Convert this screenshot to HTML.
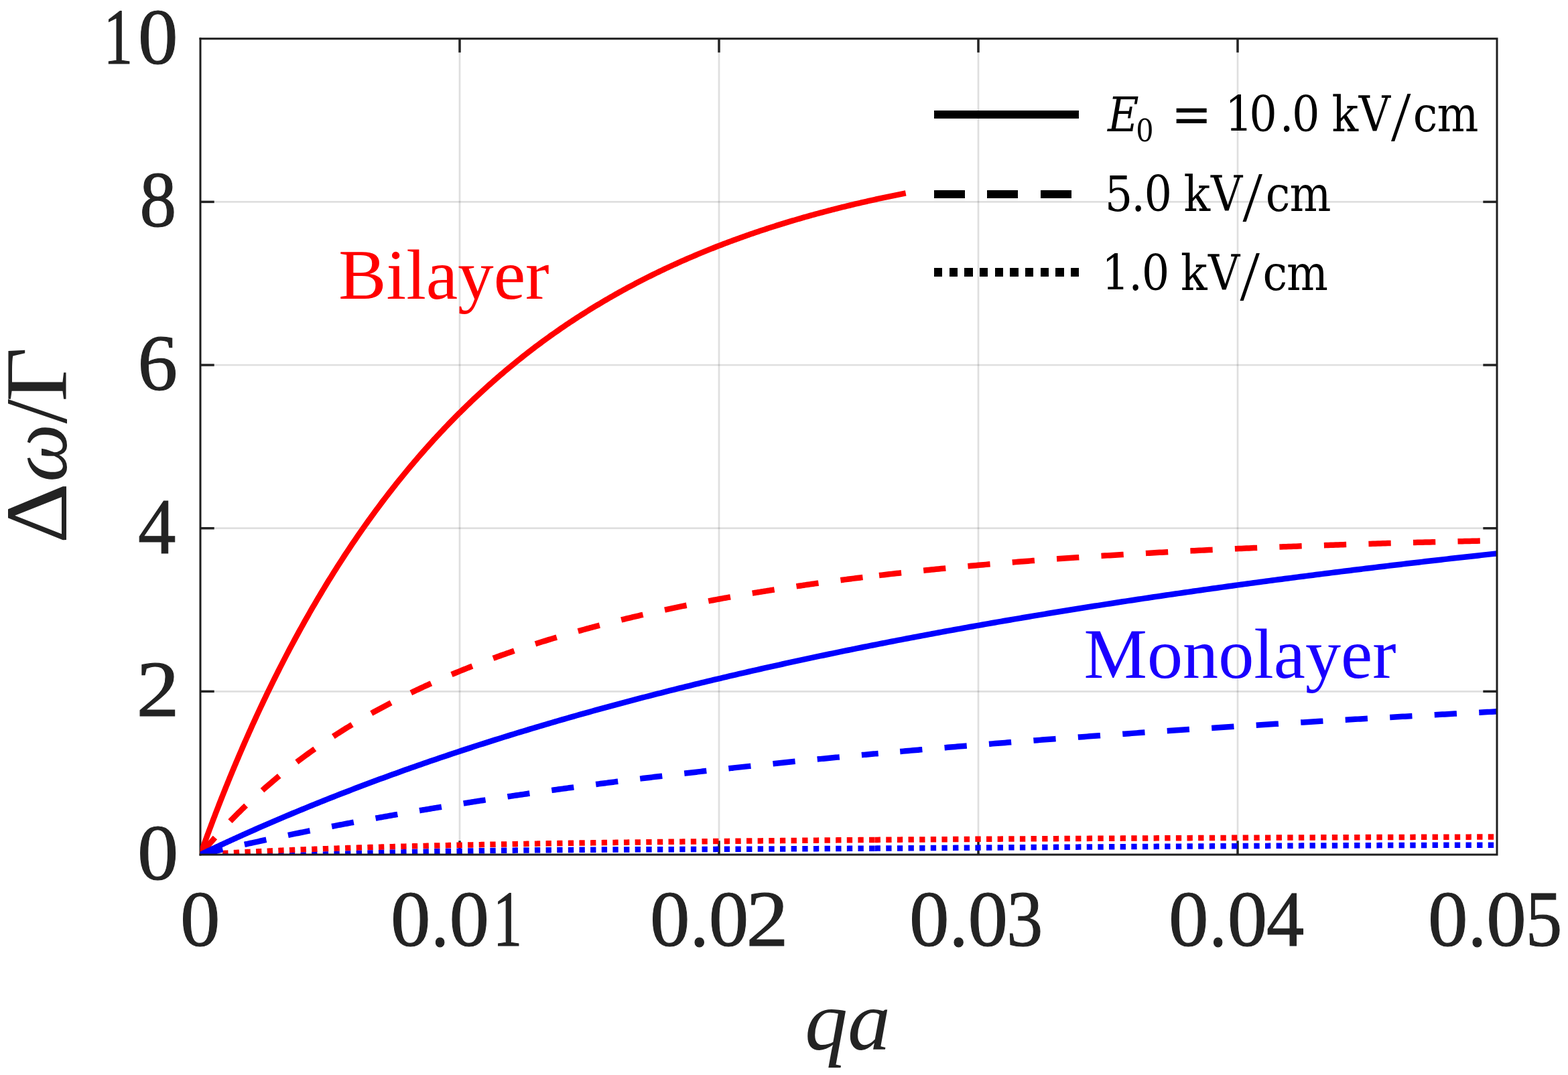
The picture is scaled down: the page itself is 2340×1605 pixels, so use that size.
<!DOCTYPE html>
<html><head><meta charset="utf-8"><title>Δω/Γ vs qa</title>
<style>
html,body{margin:0;padding:0;background:#fff;}
body{width:2340px;height:1605px;overflow:hidden;}
svg{display:block;}
</style></head><body>
<svg xmlns="http://www.w3.org/2000/svg" width="2340" height="1605" viewBox="0 0 2340 1605">
<rect width="2340" height="1605" fill="#fff"/>
<defs><clipPath id="ax"><rect x="298.8" y="57.7" width="1935.2" height="1218.3"/></clipPath></defs>
<g stroke="#262626" stroke-opacity="0.15" stroke-width="2.7" fill="none"><line x1="686.0" y1="57.7" x2="686.0" y2="1276.0"/><line x1="1073.0" y1="57.7" x2="1073.0" y2="1276.0"/><line x1="1460.0" y1="57.7" x2="1460.0" y2="1276.0"/><line x1="1847.0" y1="57.7" x2="1847.0" y2="1276.0"/><line x1="299.0" y1="1032.3" x2="2234.0" y2="1032.3"/><line x1="299.0" y1="788.7" x2="2234.0" y2="788.7"/><line x1="299.0" y1="545.0" x2="2234.0" y2="545.0"/><line x1="299.0" y1="301.4" x2="2234.0" y2="301.4"/></g>
<g stroke="#232323" stroke-width="3.5"><line x1="686.0" y1="1276.0" x2="686.0" y2="1255.3"/><line x1="686.0" y1="57.7" x2="686.0" y2="78.4"/><line x1="1073.0" y1="1276.0" x2="1073.0" y2="1255.3"/><line x1="1073.0" y1="57.7" x2="1073.0" y2="78.4"/><line x1="1460.0" y1="1276.0" x2="1460.0" y2="1255.3"/><line x1="1460.0" y1="57.7" x2="1460.0" y2="78.4"/><line x1="1847.0" y1="1276.0" x2="1847.0" y2="1255.3"/><line x1="1847.0" y1="57.7" x2="1847.0" y2="78.4"/><line x1="299.0" y1="1032.3" x2="319.7" y2="1032.3"/><line x1="2234.0" y1="1032.3" x2="2213.3" y2="1032.3"/><line x1="299.0" y1="788.7" x2="319.7" y2="788.7"/><line x1="2234.0" y1="788.7" x2="2213.3" y2="788.7"/><line x1="299.0" y1="545.0" x2="319.7" y2="545.0"/><line x1="2234.0" y1="545.0" x2="2213.3" y2="545.0"/><line x1="299.0" y1="301.4" x2="319.7" y2="301.4"/><line x1="2234.0" y1="301.4" x2="2213.3" y2="301.4"/></g>
<line x1="299.0" y1="56.2" x2="299.0" y2="1277.5" stroke="#1e1e1e" stroke-width="3"/>
<g clip-path="url(#ax)" fill="none" stroke-width="8.5" stroke-linejoin="round"><path d="M299.00 1276.00 L299.98 1275.94 L300.96 1275.88 L301.94 1275.82 L302.92 1275.76 L303.90 1275.70 L304.88 1275.64 L305.86 1275.57 L306.84 1275.51 L307.82 1275.46 L308.80 1275.40 L309.78 1275.34 L310.76 1275.28 L311.74 1275.22 L312.72 1275.16 L313.70 1275.10 L314.68 1275.04 L315.66 1274.98 L316.64 1274.93 L317.62 1274.87 L318.59 1274.81 L319.57 1274.75 L320.55 1274.70 L321.53 1274.64 L322.51 1274.58 L323.49 1274.53 L324.47 1274.47 L325.45 1274.41 L326.43 1274.36 L327.41 1274.30 L328.39 1274.25 L329.37 1274.19 L330.35 1274.13 L331.33 1274.08 L332.31 1274.02 L333.29 1273.97 L334.27 1273.91 L335.25 1273.86 L336.23 1273.81 L337.21 1273.75 L338.19 1273.70 L339.17 1273.64 L340.15 1273.59 L341.13 1273.54 L342.11 1273.48 L343.09 1273.43 L344.07 1273.38 L345.05 1273.33 L346.03 1273.27 L347.01 1273.22 L347.99 1273.17 L348.97 1273.12 L349.95 1273.06 L350.93 1273.01 L351.91 1272.96 L352.89 1272.91 L353.87 1272.86 L354.85 1272.81 L355.83 1272.76 L356.81 1272.71 L357.78 1272.65 L358.76 1272.60 L359.74 1272.55 L360.72 1272.50 L361.70 1272.45 L362.68 1272.40 L363.66 1272.35 L364.64 1272.30 L365.62 1272.26 L366.60 1272.21 L367.58 1272.16 L368.56 1272.11 L369.54 1272.06 L370.52 1272.01 L371.50 1271.96 L372.48 1271.91 L373.46 1271.87 L374.44 1271.82 L375.42 1271.77 L376.40 1271.72 L378.73 1271.61 L381.06 1271.50 L383.39 1271.39 L385.72 1271.28 L388.04 1271.17 L390.37 1271.06 L392.70 1270.95 L395.03 1270.84 L397.36 1270.74 L399.69 1270.63 L402.02 1270.53 L404.35 1270.42 L406.67 1270.32 L409.00 1270.22 L411.33 1270.12 L413.66 1270.01 L415.99 1269.91 L418.32 1269.81 L420.65 1269.72 L422.98 1269.62 L425.31 1269.52 L427.63 1269.42 L429.96 1269.33 L432.29 1269.23 L434.62 1269.14 L436.95 1269.04 L439.28 1268.95 L441.61 1268.86 L443.94 1268.76 L446.26 1268.67 L448.59 1268.58 L450.92 1268.49 L453.25 1268.40 L455.58 1268.31 L457.91 1268.22 L460.24 1268.14 L462.57 1268.05 L464.90 1267.96 L467.22 1267.88 L469.55 1267.79 L471.88 1267.70 L474.21 1267.62 L476.54 1267.54 L478.87 1267.45 L481.20 1267.37 L483.53 1267.29 L485.85 1267.21 L488.18 1267.13 L490.51 1267.04 L492.84 1266.96 L495.17 1266.89 L497.50 1266.81 L499.83 1266.73 L502.16 1266.65 L504.49 1266.57 L506.81 1266.50 L509.14 1266.42 L511.47 1266.34 L513.80 1266.27 L516.13 1266.19 L518.46 1266.12 L520.79 1266.04 L523.12 1265.97 L525.44 1265.90 L527.77 1265.82 L530.10 1265.75 L532.43 1265.68 L534.76 1265.61 L537.09 1265.54 L539.42 1265.47 L541.75 1265.40 L544.08 1265.33 L546.40 1265.26 L548.73 1265.19 L551.06 1265.12 L553.39 1265.05 L555.72 1264.99 L558.05 1264.92 L560.38 1264.85 L562.71 1264.79 L565.03 1264.72 L567.36 1264.65 L569.69 1264.59 L572.02 1264.53 L574.35 1264.46 L576.68 1264.40 L579.01 1264.33 L581.34 1264.27 L583.67 1264.21 L585.99 1264.15 L588.32 1264.08 L590.65 1264.02 L592.98 1263.96 L595.31 1263.90 L597.64 1263.84 L599.97 1263.78 L602.30 1263.72 L604.62 1263.66 L606.95 1263.60 L609.28 1263.54 L611.61 1263.48 L613.94 1263.42 L616.27 1263.37 L618.60 1263.31 L620.93 1263.25 L623.26 1263.19 L625.58 1263.14 L627.91 1263.08 L630.24 1263.03 L632.57 1262.97 L634.90 1262.91 L637.23 1262.86 L639.56 1262.80 L641.89 1262.75 L644.21 1262.70 L646.54 1262.64 L648.87 1262.59 L651.20 1262.53 L653.53 1262.48 L655.86 1262.43 L658.19 1262.38 L660.52 1262.32 L662.85 1262.27 L665.17 1262.22 L667.50 1262.17 L669.83 1262.12 L672.16 1262.07 L674.49 1262.02 L676.82 1261.97 L679.15 1261.92 L681.48 1261.87 L683.80 1261.82 L686.13 1261.77 L688.46 1261.72 L690.79 1261.67 L693.12 1261.62 L695.45 1261.57 L697.78 1261.53 L700.11 1261.48 L702.44 1261.43 L704.76 1261.38 L707.09 1261.34 L709.42 1261.29 L711.75 1261.24 L714.08 1261.20 L716.41 1261.15 L718.74 1261.11 L721.07 1261.06 L723.39 1261.01 L725.72 1260.97 L728.05 1260.92 L730.38 1260.88 L732.71 1260.84 L735.04 1260.79 L737.37 1260.75 L739.70 1260.70 L742.03 1260.66 L744.35 1260.62 L746.68 1260.57 L749.01 1260.53 L751.34 1260.49 L753.67 1260.44 L756.00 1260.40 L758.33 1260.36 L760.66 1260.32 L762.98 1260.28 L765.31 1260.23 L767.64 1260.19 L769.97 1260.15 L772.30 1260.11 L774.63 1260.07 L776.96 1260.03 L779.29 1259.99 L781.62 1259.95 L783.94 1259.91 L786.27 1259.87 L788.60 1259.83 L790.93 1259.79 L793.26 1259.75 L795.59 1259.71 L797.92 1259.67 L800.25 1259.63 L802.57 1259.59 L804.90 1259.56 L807.23 1259.52 L809.56 1259.48 L811.89 1259.44 L814.22 1259.40 L816.55 1259.37 L818.88 1259.33 L821.21 1259.29 L823.53 1259.25 L825.86 1259.22 L828.19 1259.18 L830.52 1259.14 L832.85 1259.11 L835.18 1259.07 L837.51 1259.04 L839.84 1259.00 L842.16 1258.96 L844.49 1258.93 L846.82 1258.89 L849.15 1258.86 L851.48 1258.82 L853.81 1258.79 L856.14 1258.75 L858.47 1258.72 L860.79 1258.68 L863.12 1258.65 L865.45 1258.61 L867.78 1258.58 L870.11 1258.54 L872.44 1258.51 L874.77 1258.48 L877.10 1258.44 L879.43 1258.41 L881.75 1258.38 L884.08 1258.34 L886.41 1258.31 L888.74 1258.28 L891.07 1258.24 L893.40 1258.21 L895.73 1258.18 L898.06 1258.15 L900.38 1258.11 L902.71 1258.08 L905.04 1258.05 L907.37 1258.02 L909.70 1257.99 L912.03 1257.95 L914.36 1257.92 L916.69 1257.89 L919.02 1257.86 L921.34 1257.83 L923.67 1257.80 L926.00 1257.77 L928.33 1257.74 L930.66 1257.71 L932.99 1257.67 L935.32 1257.64 L937.65 1257.61 L939.97 1257.58 L942.30 1257.55 L944.63 1257.52 L946.96 1257.49 L949.29 1257.46 L951.62 1257.43 L953.95 1257.40 L956.28 1257.38 L958.61 1257.35 L960.93 1257.32 L963.26 1257.29 L965.59 1257.26 L967.92 1257.23 L970.25 1257.20 L972.58 1257.17 L974.91 1257.14 L977.24 1257.12 L979.56 1257.09 L981.89 1257.06 L984.22 1257.03 L986.55 1257.00 L988.88 1256.97 L991.21 1256.95 L993.54 1256.92 L995.87 1256.89 L998.20 1256.86 L1000.52 1256.84 L1002.85 1256.81 L1005.18 1256.78 L1007.51 1256.75 L1009.84 1256.73 L1012.17 1256.70 L1014.50 1256.67 L1016.83 1256.65 L1019.15 1256.62 L1021.48 1256.59 L1023.81 1256.57 L1026.14 1256.54 L1028.47 1256.51 L1030.80 1256.49 L1033.13 1256.46 L1035.46 1256.44 L1037.79 1256.41 L1040.11 1256.38 L1042.44 1256.36 L1044.77 1256.33 L1047.10 1256.31 L1049.43 1256.28 L1051.76 1256.26 L1054.09 1256.23 L1056.42 1256.21 L1058.74 1256.18 L1061.07 1256.16 L1063.40 1256.13 L1065.73 1256.11 L1068.06 1256.08 L1070.39 1256.06 L1072.72 1256.03 L1075.05 1256.01 L1077.38 1255.98 L1079.70 1255.96 L1082.03 1255.93 L1084.36 1255.91 L1086.69 1255.89 L1089.02 1255.86 L1091.35 1255.84 L1093.68 1255.81 L1096.01 1255.79 L1098.33 1255.77 L1100.66 1255.74 L1102.99 1255.72 L1105.32 1255.70 L1107.65 1255.67 L1109.98 1255.65 L1112.31 1255.62 L1114.64 1255.60 L1116.97 1255.58 L1119.29 1255.56 L1121.62 1255.53 L1123.95 1255.51 L1126.28 1255.49 L1128.61 1255.46 L1130.94 1255.44 L1133.27 1255.42 L1135.60 1255.40 L1137.92 1255.37 L1140.25 1255.35 L1142.58 1255.33 L1144.91 1255.31 L1147.24 1255.28 L1149.57 1255.26 L1151.90 1255.24 L1154.23 1255.22 L1156.56 1255.20 L1158.88 1255.17 L1161.21 1255.15 L1163.54 1255.13 L1165.87 1255.11 L1168.20 1255.09 L1170.53 1255.07 L1172.86 1255.05 L1175.19 1255.02 L1177.51 1255.00 L1179.84 1254.98 L1182.17 1254.96 L1184.50 1254.94 L1186.83 1254.92 L1189.16 1254.90 L1191.49 1254.88 L1193.82 1254.86 L1196.15 1254.83 L1198.47 1254.81 L1200.80 1254.79 L1203.13 1254.77 L1205.46 1254.75 L1207.79 1254.73 L1210.12 1254.71 L1212.45 1254.69 L1214.78 1254.67 L1217.10 1254.65 L1219.43 1254.63 L1221.76 1254.61 L1224.09 1254.59 L1226.42 1254.57 L1228.75 1254.55 L1231.08 1254.53 L1233.41 1254.51 L1235.74 1254.49 L1238.06 1254.47 L1240.39 1254.45 L1242.72 1254.43 L1245.05 1254.41 L1247.38 1254.39 L1249.71 1254.37 L1252.04 1254.36 L1254.37 1254.34 L1256.69 1254.32 L1259.02 1254.30 L1261.35 1254.28 L1263.68 1254.26 L1266.01 1254.24 L1268.34 1254.22 L1270.67 1254.20 L1273.00 1254.18 L1275.33 1254.17 L1277.65 1254.15 L1279.98 1254.13 L1282.31 1254.11 L1284.64 1254.09 L1286.97 1254.07 L1289.30 1254.05 L1291.63 1254.04 L1293.96 1254.02 L1296.28 1254.00 L1298.61 1253.98 L1300.94 1253.96 L1303.27 1253.94 L1305.60 1253.93" stroke="#ff0000" stroke-dasharray="8.32 8.32"/><path d="M1305.60 1253.93 L1309.33 1253.90 L1313.06 1253.87 L1316.79 1253.84 L1320.51 1253.81 L1324.24 1253.78 L1327.97 1253.76 L1331.70 1253.73 L1335.43 1253.70 L1339.16 1253.67 L1342.89 1253.64 L1346.61 1253.62 L1350.34 1253.59 L1354.07 1253.56 L1357.80 1253.54 L1361.53 1253.51 L1365.26 1253.48 L1368.98 1253.45 L1372.71 1253.43 L1376.44 1253.40 L1380.17 1253.38 L1383.90 1253.35 L1387.63 1253.32 L1391.36 1253.30 L1395.08 1253.27 L1398.81 1253.25 L1402.54 1253.22 L1406.27 1253.19 L1410.00 1253.17 L1413.73 1253.14 L1417.46 1253.12 L1421.18 1253.09 L1424.91 1253.07 L1428.64 1253.04 L1432.37 1253.02 L1436.10 1252.99 L1439.83 1252.97 L1443.56 1252.94 L1447.28 1252.92 L1451.01 1252.90 L1454.74 1252.87 L1458.47 1252.85 L1462.20 1252.82 L1465.93 1252.80 L1469.65 1252.78 L1473.38 1252.75 L1477.11 1252.73 L1480.84 1252.71 L1484.57 1252.68 L1488.30 1252.66 L1492.03 1252.64 L1495.75 1252.61 L1499.48 1252.59 L1503.21 1252.57 L1506.94 1252.54 L1510.67 1252.52 L1514.40 1252.50 L1518.13 1252.48 L1521.85 1252.45 L1525.58 1252.43 L1529.31 1252.41 L1533.04 1252.39 L1536.77 1252.37 L1540.50 1252.34 L1544.22 1252.32 L1547.95 1252.30 L1551.68 1252.28 L1555.41 1252.26 L1559.14 1252.24 L1562.87 1252.21 L1566.60 1252.19 L1570.32 1252.17 L1574.05 1252.15 L1577.78 1252.13 L1581.51 1252.11 L1585.24 1252.09 L1588.97 1252.07 L1592.70 1252.05 L1596.42 1252.03 L1600.15 1252.01 L1603.88 1251.99 L1607.61 1251.97 L1611.34 1251.95 L1615.07 1251.93 L1618.80 1251.91 L1622.52 1251.89 L1626.25 1251.87 L1629.98 1251.85 L1633.71 1251.83 L1637.44 1251.81 L1641.17 1251.79 L1644.89 1251.77 L1648.62 1251.75 L1652.35 1251.73 L1656.08 1251.71 L1659.81 1251.69 L1663.54 1251.67 L1667.27 1251.65 L1670.99 1251.63 L1674.72 1251.62 L1678.45 1251.60 L1682.18 1251.58 L1685.91 1251.56 L1689.64 1251.54 L1693.37 1251.52 L1697.09 1251.50 L1700.82 1251.49 L1704.55 1251.47 L1708.28 1251.45 L1712.01 1251.43 L1715.74 1251.41 L1719.47 1251.40 L1723.19 1251.38 L1726.92 1251.36 L1730.65 1251.34 L1734.38 1251.32 L1738.11 1251.31 L1741.84 1251.29 L1745.56 1251.27 L1749.29 1251.26 L1753.02 1251.24 L1756.75 1251.22 L1760.48 1251.20 L1764.21 1251.19 L1767.94 1251.17 L1771.66 1251.15 L1775.39 1251.14 L1779.12 1251.12 L1782.85 1251.10 L1786.58 1251.09 L1790.31 1251.07 L1794.04 1251.05 L1797.76 1251.04 L1801.49 1251.02 L1805.22 1251.00 L1808.95 1250.99 L1812.68 1250.97 L1816.41 1250.96 L1820.13 1250.94 L1823.86 1250.92 L1827.59 1250.91 L1831.32 1250.89 L1835.05 1250.88 L1838.78 1250.86 L1842.51 1250.85 L1846.23 1250.83 L1849.96 1250.81 L1853.69 1250.80 L1857.42 1250.78 L1861.15 1250.77 L1864.88 1250.75 L1868.61 1250.74 L1872.33 1250.72 L1876.06 1250.71 L1879.79 1250.69 L1883.52 1250.68 L1887.25 1250.66 L1890.98 1250.65 L1894.71 1250.63 L1898.43 1250.62 L1902.16 1250.60 L1905.89 1250.59 L1909.62 1250.57 L1913.35 1250.56 L1917.08 1250.55 L1920.80 1250.53 L1924.53 1250.52 L1928.26 1250.50 L1931.99 1250.49 L1935.72 1250.47 L1939.45 1250.46 L1943.18 1250.45 L1946.90 1250.43 L1950.63 1250.42 L1954.36 1250.40 L1958.09 1250.39 L1961.82 1250.38 L1965.55 1250.36 L1969.28 1250.35 L1973.00 1250.34 L1976.73 1250.32 L1980.46 1250.31 L1984.19 1250.30 L1987.92 1250.28 L1991.65 1250.27 L1995.38 1250.26 L1999.10 1250.24 L2002.83 1250.23 L2006.56 1250.22 L2010.29 1250.20 L2014.02 1250.19 L2017.75 1250.18 L2021.47 1250.17 L2025.20 1250.15 L2028.93 1250.14 L2032.66 1250.13 L2036.39 1250.11 L2040.12 1250.10 L2043.85 1250.09 L2047.57 1250.08 L2051.30 1250.06 L2055.03 1250.05 L2058.76 1250.04 L2062.49 1250.03 L2066.22 1250.01 L2069.95 1250.00 L2073.67 1249.99 L2077.40 1249.98 L2081.13 1249.97 L2084.86 1249.95 L2088.59 1249.94 L2092.32 1249.93 L2096.04 1249.92 L2099.77 1249.91 L2103.50 1249.90 L2107.23 1249.88 L2110.96 1249.87 L2114.69 1249.86 L2118.42 1249.85 L2122.14 1249.84 L2125.87 1249.83 L2129.60 1249.81 L2133.33 1249.80 L2137.06 1249.79 L2140.79 1249.78 L2144.52 1249.77 L2148.24 1249.76 L2151.97 1249.75 L2155.70 1249.74 L2159.43 1249.72 L2163.16 1249.71 L2166.89 1249.70 L2170.62 1249.69 L2174.34 1249.68 L2178.07 1249.67 L2181.80 1249.66 L2185.53 1249.65 L2189.26 1249.64 L2192.99 1249.63 L2196.71 1249.62 L2200.44 1249.60 L2204.17 1249.59 L2207.90 1249.58 L2211.63 1249.57 L2215.36 1249.56 L2219.09 1249.55 L2222.81 1249.54 L2226.54 1249.53 L2230.27 1249.52 L2234.00 1249.51" stroke="#ff0000" stroke-dasharray="8.32 8.32"/><path d="M299.00 1276.00 L299.98 1274.82 L300.96 1273.64 L301.94 1272.46 L302.92 1271.29 L303.90 1270.13 L304.88 1268.96 L305.86 1267.81 L306.84 1266.65 L307.82 1265.50 L308.80 1264.35 L309.78 1263.21 L310.76 1262.07 L311.74 1260.94 L312.72 1259.81 L313.70 1258.68 L314.68 1257.55 L315.66 1256.43 L316.64 1255.32 L317.62 1254.21 L318.59 1253.10 L319.57 1251.99 L320.55 1250.89 L321.53 1249.80 L322.51 1248.70 L323.49 1247.61 L324.47 1246.53 L325.45 1245.44 L326.43 1244.37 L327.41 1243.29 L328.39 1242.22 L329.37 1241.15 L330.35 1240.09 L331.33 1239.03 L332.31 1237.97 L333.29 1236.91 L334.27 1235.86 L335.25 1234.82 L336.23 1233.77 L337.21 1232.73 L338.19 1231.70 L339.17 1230.66 L340.15 1229.63 L341.13 1228.61 L342.11 1227.58 L343.09 1226.56 L344.07 1225.55 L345.05 1224.53 L346.03 1223.52 L347.01 1222.52 L347.99 1221.51 L348.97 1220.51 L349.95 1219.52 L350.93 1218.52 L351.91 1217.53 L352.89 1216.55 L353.87 1215.56 L354.85 1214.58 L355.83 1213.60 L356.81 1212.63 L357.78 1211.66 L358.76 1210.69 L359.74 1209.73 L360.72 1208.76 L361.70 1207.80 L362.68 1206.85 L363.66 1205.90 L364.64 1204.95 L365.62 1204.00 L366.60 1203.06 L367.58 1202.11 L368.56 1201.18 L369.54 1200.24 L370.52 1199.31 L371.50 1198.38 L372.48 1197.46 L373.46 1196.53 L374.44 1195.61 L375.42 1194.69 L376.40 1193.78 L378.74 1191.60 L381.09 1189.44 L383.43 1187.30 L385.78 1185.17 L388.12 1183.05 L390.47 1180.96 L392.81 1178.87 L395.16 1176.81 L397.50 1174.76 L399.85 1172.72 L402.19 1170.70 L404.54 1168.69 L406.88 1166.69 L409.23 1164.72 L411.57 1162.75 L413.92 1160.80 L416.26 1158.86 L418.61 1156.94 L420.95 1155.03 L423.30 1153.13 L425.64 1151.25 L427.99 1149.38 L430.33 1147.52 L432.68 1145.68 L435.02 1143.85 L437.37 1142.03 L439.71 1140.23 L442.06 1138.43 L444.40 1136.65 L446.75 1134.88 L449.09 1133.13 L451.44 1131.38 L453.78 1129.65 L456.13 1127.93 L458.47 1126.22 L460.82 1124.52 L463.16 1122.83 L465.50 1121.16 L467.85 1119.49 L470.19 1117.84 L472.54 1116.20 L474.88 1114.56 L477.23 1112.94 L479.57 1111.33 L481.92 1109.73 L484.26 1108.15 L486.61 1106.57 L488.95 1105.00 L491.30 1103.44 L493.64 1101.89 L495.99 1100.35 L498.33 1098.82 L500.68 1097.31 L503.02 1095.80 L505.37 1094.30 L507.71 1092.81 L510.06 1091.33 L512.40 1089.86 L514.75 1088.39 L517.09 1086.94 L519.44 1085.50 L521.78 1084.06 L524.13 1082.64 L526.47 1081.22 L528.82 1079.81 L531.16 1078.41 L533.51 1077.02 L535.85 1075.64 L538.20 1074.27 L540.54 1072.90 L542.89 1071.55 L545.23 1070.20 L547.57 1068.86 L549.92 1067.52 L552.26 1066.20 L554.61 1064.88 L556.95 1063.58 L559.30 1062.28 L561.64 1060.98 L563.99 1059.70 L566.33 1058.42 L568.68 1057.15 L571.02 1055.89 L573.37 1054.63 L575.71 1053.39 L578.06 1052.15 L580.40 1050.91 L582.75 1049.69 L585.09 1048.47 L587.44 1047.26 L589.78 1046.05 L592.13 1044.86 L594.47 1043.67 L596.82 1042.48 L599.16 1041.31 L601.51 1040.14 L603.85 1038.97 L606.20 1037.82 L608.54 1036.67 L610.89 1035.52 L613.23 1034.39 L615.58 1033.26 L617.92 1032.13 L620.27 1031.01 L622.61 1029.90 L624.96 1028.80 L627.30 1027.70 L629.65 1026.61 L631.99 1025.52 L634.33 1024.44 L636.68 1023.36 L639.02 1022.30 L641.37 1021.23 L643.71 1020.18 L646.06 1019.12 L648.40 1018.08 L650.75 1017.04 L653.09 1016.01 L655.44 1014.98 L657.78 1013.95 L660.13 1012.94 L662.47 1011.93 L664.82 1010.92 L667.16 1009.92 L669.51 1008.92 L671.85 1007.93 L674.20 1006.95 L676.54 1005.97 L678.89 1005.00 L681.23 1004.03 L683.58 1003.06 L685.92 1002.11 L688.27 1001.15 L690.61 1000.20 L692.96 999.26 L695.30 998.32 L697.65 997.39 L699.99 996.46 L702.34 995.54 L704.68 994.62 L707.03 993.70 L709.37 992.80 L711.72 991.89 L714.06 990.99 L716.41 990.10 L718.75 989.21 L721.09 988.32 L723.44 987.44 L725.78 986.56 L728.13 985.69 L730.47 984.82 L732.82 983.96 L735.16 983.10 L737.51 982.25 L739.85 981.40 L742.20 980.55 L744.54 979.71 L746.89 978.88 L749.23 978.04 L751.58 977.22 L753.92 976.39 L756.27 975.57 L758.61 974.76 L760.96 973.94 L763.30 973.14 L765.65 972.33 L767.99 971.53 L770.34 970.74 L772.68 969.95 L775.03 969.16 L777.37 968.38 L779.72 967.60 L782.06 966.82 L784.41 966.05 L786.75 965.28 L789.10 964.52 L791.44 963.76 L793.79 963.00 L796.13 962.25 L798.48 961.50 L800.82 960.75 L803.16 960.01 L805.51 959.27 L807.85 958.54 L810.20 957.81 L812.54 957.08 L814.89 956.36 L817.23 955.64 L819.58 954.92 L821.92 954.21 L824.27 953.50 L826.61 952.79 L828.96 952.09 L831.30 951.39 L833.65 950.69 L835.99 950.00 L838.34 949.31 L840.68 948.63 L843.03 947.94 L845.37 947.26 L847.72 946.59 L850.06 945.91 L852.41 945.24 L854.75 944.58 L857.10 943.92 L859.44 943.26 L861.79 942.60 L864.13 941.95 L866.48 941.29 L868.82 940.65 L871.17 940.00 L873.51 939.36 L875.86 938.72 L878.20 938.09 L880.55 937.46 L882.89 936.83 L885.24 936.20 L887.58 935.58 L889.92 934.96 L892.27 934.34 L894.61 933.73 L896.96 933.11 L899.30 932.51 L901.65 931.90 L903.99 931.30 L906.34 930.70 L908.68 930.10 L911.03 929.51 L913.37 928.91 L915.72 928.33 L918.06 927.74 L920.41 927.16 L922.75 926.58 L925.10 926.00 L927.44 925.42 L929.79 924.85 L932.13 924.28 L934.48 923.71 L936.82 923.15 L939.17 922.59 L941.51 922.03 L943.86 921.47 L946.20 920.92 L948.55 920.37 L950.89 919.82 L953.24 919.27 L955.58 918.73 L957.93 918.18 L960.27 917.65 L962.62 917.11 L964.96 916.57 L967.31 916.04 L969.65 915.51 L971.99 914.99 L974.34 914.46 L976.68 913.94 L979.03 913.42 L981.37 912.91 L983.72 912.39 L986.06 911.88 L988.41 911.37 L990.75 910.86 L993.10 910.36 L995.44 909.85 L997.79 909.35 L1000.13 908.85 L1002.48 908.36 L1004.82 907.86 L1007.17 907.37 L1009.51 906.88 L1011.86 906.40 L1014.20 905.91 L1016.55 905.43 L1018.89 904.95 L1021.24 904.47 L1023.58 903.99 L1025.93 903.52 L1028.27 903.05 L1030.62 902.58 L1032.96 902.11 L1035.31 901.64 L1037.65 901.18 L1040.00 900.72 L1042.34 900.26 L1044.69 899.80 L1047.03 899.35 L1049.38 898.89 L1051.72 898.44 L1054.07 897.99 L1056.41 897.55 L1058.75 897.10 L1061.10 896.66 L1063.44 896.22 L1065.79 895.78 L1068.13 895.34 L1070.48 894.91 L1072.82 894.47 L1075.17 894.04 L1077.51 893.61 L1079.86 893.19 L1082.20 892.76 L1084.55 892.34 L1086.89 891.92 L1089.24 891.50 L1091.58 891.08 L1093.93 890.66 L1096.27 890.25 L1098.62 889.84 L1100.96 889.43 L1103.31 889.02 L1105.65 888.61 L1108.00 888.21 L1110.34 887.80 L1112.69 887.40 L1115.03 887.00 L1117.38 886.61 L1119.72 886.21 L1122.07 885.82 L1124.41 885.42 L1126.76 885.03 L1129.10 884.64 L1131.45 884.26 L1133.79 883.87 L1136.14 883.49 L1138.48 883.10 L1140.83 882.72 L1143.17 882.35 L1145.51 881.97 L1147.86 881.59 L1150.20 881.22 L1152.55 880.85 L1154.89 880.48 L1157.24 880.11 L1159.58 879.74 L1161.93 879.38 L1164.27 879.01 L1166.62 878.65 L1168.96 878.29 L1171.31 877.93 L1173.65 877.57 L1176.00 877.22 L1178.34 876.86 L1180.69 876.51 L1183.03 876.16 L1185.38 875.81 L1187.72 875.46 L1190.07 875.11 L1192.41 874.77 L1194.76 874.43 L1197.10 874.08 L1199.45 873.74 L1201.79 873.40 L1204.14 873.07 L1206.48 872.73 L1208.83 872.40 L1211.17 872.06 L1213.52 871.73 L1215.86 871.40 L1218.21 871.07 L1220.55 870.74 L1222.90 870.42 L1225.24 870.09 L1227.58 869.77 L1229.93 869.45 L1232.27 869.13 L1234.62 868.81 L1236.96 868.49 L1239.31 868.18 L1241.65 867.86 L1244.00 867.55 L1246.34 867.24 L1248.69 866.93 L1251.03 866.62 L1253.38 866.31 L1255.72 866.00 L1258.07 865.70 L1260.41 865.40 L1262.76 865.09 L1265.10 864.79 L1267.45 864.49 L1269.79 864.19 L1272.14 863.90 L1274.48 863.60 L1276.83 863.31 L1279.17 863.01 L1281.52 862.72 L1283.86 862.43 L1286.21 862.14 L1288.55 861.85 L1290.90 861.57 L1293.24 861.28 L1295.59 861.00 L1297.93 860.71 L1300.28 860.43 L1302.62 860.15 L1304.97 859.87 L1307.31 859.59 L1309.66 859.31 L1312.00 859.04" stroke="#ff0000" stroke-dasharray="33.3 33.26" stroke-dashoffset="66.28"/><path d="M1312.00 859.04 L1315.70 858.61 L1319.41 858.18 L1323.11 857.75 L1326.81 857.32 L1330.51 856.90 L1334.22 856.48 L1337.92 856.07 L1341.62 855.66 L1345.33 855.25 L1349.03 854.84 L1352.73 854.43 L1356.43 854.03 L1360.14 853.63 L1363.84 853.24 L1367.54 852.84 L1371.24 852.45 L1374.95 852.07 L1378.65 851.68 L1382.35 851.30 L1386.06 850.92 L1389.76 850.54 L1393.46 850.17 L1397.16 849.79 L1400.87 849.42 L1404.57 849.06 L1408.27 848.69 L1411.98 848.33 L1415.68 847.97 L1419.38 847.61 L1423.08 847.26 L1426.79 846.90 L1430.49 846.55 L1434.19 846.21 L1437.90 845.86 L1441.60 845.52 L1445.30 845.18 L1449.00 844.84 L1452.71 844.50 L1456.41 844.17 L1460.11 843.84 L1463.82 843.51 L1467.52 843.18 L1471.22 842.86 L1474.92 842.53 L1478.63 842.21 L1482.33 841.90 L1486.03 841.58 L1489.73 841.27 L1493.44 840.96 L1497.14 840.65 L1500.84 840.34 L1504.55 840.03 L1508.25 839.73 L1511.95 839.43 L1515.65 839.13 L1519.36 838.83 L1523.06 838.54 L1526.76 838.24 L1530.47 837.95 L1534.17 837.66 L1537.87 837.38 L1541.57 837.09 L1545.28 836.81 L1548.98 836.53 L1552.68 836.25 L1556.39 835.97 L1560.09 835.69 L1563.79 835.42 L1567.49 835.15 L1571.20 834.88 L1574.90 834.61 L1578.60 834.34 L1582.31 834.08 L1586.01 833.82 L1589.71 833.56 L1593.41 833.30 L1597.12 833.04 L1600.82 832.78 L1604.52 832.53 L1608.22 832.28 L1611.93 832.03 L1615.63 831.78 L1619.33 831.53 L1623.04 831.29 L1626.74 831.04 L1630.44 830.80 L1634.14 830.56 L1637.85 830.32 L1641.55 830.08 L1645.25 829.85 L1648.96 829.61 L1652.66 829.38 L1656.36 829.15 L1660.06 828.92 L1663.77 828.69 L1667.47 828.47 L1671.17 828.24 L1674.88 828.02 L1678.58 827.80 L1682.28 827.58 L1685.98 827.36 L1689.69 827.14 L1693.39 826.93 L1697.09 826.71 L1700.80 826.50 L1704.50 826.29 L1708.20 826.08 L1711.90 825.87 L1715.61 825.66 L1719.31 825.46 L1723.01 825.25 L1726.71 825.05 L1730.42 824.85 L1734.12 824.65 L1737.82 824.45 L1741.53 824.25 L1745.23 824.06 L1748.93 823.86 L1752.63 823.67 L1756.34 823.48 L1760.04 823.29 L1763.74 823.10 L1767.45 822.91 L1771.15 822.72 L1774.85 822.53 L1778.55 822.35 L1782.26 822.17 L1785.96 821.99 L1789.66 821.80 L1793.37 821.62 L1797.07 821.45 L1800.77 821.27 L1804.47 821.09 L1808.18 820.92 L1811.88 820.75 L1815.58 820.57 L1819.29 820.40 L1822.99 820.23 L1826.69 820.06 L1830.39 819.90 L1834.10 819.73 L1837.80 819.56 L1841.50 819.40 L1845.20 819.24 L1848.91 819.07 L1852.61 818.91 L1856.31 818.75 L1860.02 818.59 L1863.72 818.44 L1867.42 818.28 L1871.12 818.12 L1874.83 817.97 L1878.53 817.82 L1882.23 817.66 L1885.94 817.51 L1889.64 817.36 L1893.34 817.21 L1897.04 817.06 L1900.75 816.92 L1904.45 816.77 L1908.15 816.62 L1911.86 816.48 L1915.56 816.34 L1919.26 816.19 L1922.96 816.05 L1926.67 815.91 L1930.37 815.77 L1934.07 815.63 L1937.78 815.50 L1941.48 815.36 L1945.18 815.22 L1948.88 815.09 L1952.59 814.96 L1956.29 814.82 L1959.99 814.69 L1963.69 814.56 L1967.40 814.43 L1971.10 814.30 L1974.80 814.17 L1978.51 814.04 L1982.21 813.92 L1985.91 813.79 L1989.61 813.66 L1993.32 813.54 L1997.02 813.42 L2000.72 813.29 L2004.43 813.17 L2008.13 813.05 L2011.83 812.93 L2015.53 812.81 L2019.24 812.69 L2022.94 812.57 L2026.64 812.46 L2030.35 812.34 L2034.05 812.23 L2037.75 812.11 L2041.45 812.00 L2045.16 811.88 L2048.86 811.77 L2052.56 811.66 L2056.27 811.55 L2059.97 811.44 L2063.67 811.33 L2067.37 811.22 L2071.08 811.11 L2074.78 811.01 L2078.48 810.90 L2082.18 810.79 L2085.89 810.69 L2089.59 810.59 L2093.29 810.48 L2097.00 810.38 L2100.70 810.28 L2104.40 810.18 L2108.10 810.07 L2111.81 809.97 L2115.51 809.87 L2119.21 809.78 L2122.92 809.68 L2126.62 809.58 L2130.32 809.48 L2134.02 809.39 L2137.73 809.29 L2141.43 809.20 L2145.13 809.10 L2148.84 809.01 L2152.54 808.92 L2156.24 808.82 L2159.94 808.73 L2163.65 808.64 L2167.35 808.55 L2171.05 808.46 L2174.76 808.37 L2178.46 808.28 L2182.16 808.20 L2185.86 808.11 L2189.57 808.02 L2193.27 807.94 L2196.97 807.85 L2200.67 807.77 L2204.38 807.68 L2208.08 807.60 L2211.78 807.51 L2215.49 807.43 L2219.19 807.35 L2222.89 807.27 L2226.59 807.19 L2230.30 807.11 L2234.00 807.03" stroke="#ff0000" stroke-dasharray="33.3 33.26" stroke-dashoffset="0.00"/><path d="M299.00 1276.00 L299.98 1273.26 L300.96 1270.52 L301.94 1267.80 L302.92 1265.08 L303.90 1262.38 L304.88 1259.68 L305.86 1256.99 L306.84 1254.31 L307.82 1251.63 L308.80 1248.97 L309.78 1246.31 L310.76 1243.66 L311.74 1241.02 L312.72 1238.39 L313.70 1235.77 L314.68 1233.16 L315.66 1230.55 L316.64 1227.95 L317.62 1225.36 L318.59 1222.78 L319.57 1220.21 L320.55 1217.64 L321.53 1215.08 L322.51 1212.53 L323.49 1209.99 L324.47 1207.45 L325.45 1204.93 L326.43 1202.41 L327.41 1199.90 L328.39 1197.39 L329.37 1194.89 L330.35 1192.41 L331.33 1189.92 L332.31 1187.45 L333.29 1184.99 L334.27 1182.53 L335.25 1180.07 L336.23 1177.63 L337.21 1175.19 L338.19 1172.76 L339.17 1170.34 L340.15 1167.93 L341.13 1165.52 L342.11 1163.12 L343.09 1160.73 L344.07 1158.34 L345.05 1155.96 L346.03 1153.59 L347.01 1151.22 L347.99 1148.86 L348.97 1146.51 L349.95 1144.17 L350.93 1141.83 L351.91 1139.50 L352.89 1137.18 L353.87 1134.86 L354.85 1132.55 L355.83 1130.24 L356.81 1127.95 L357.78 1125.66 L358.76 1123.37 L359.74 1121.09 L360.72 1118.82 L361.70 1116.56 L362.68 1114.30 L363.66 1112.05 L364.64 1109.81 L365.62 1107.57 L366.60 1105.34 L367.58 1103.11 L368.56 1100.89 L369.54 1098.68 L370.52 1096.47 L371.50 1094.27 L372.48 1092.08 L373.46 1089.89 L374.44 1087.71 L375.42 1085.53 L376.40 1083.36 L378.84 1077.97 L381.29 1072.63 L383.73 1067.31 L386.18 1062.04 L388.62 1056.80 L391.07 1051.60 L393.51 1046.43 L395.95 1041.30 L398.40 1036.20 L400.84 1031.14 L403.29 1026.12 L405.73 1021.12 L408.18 1016.16 L410.62 1011.24 L413.07 1006.34 L415.51 1001.48 L417.95 996.66 L420.40 991.86 L422.84 987.10 L425.29 982.36 L427.73 977.66 L430.18 972.99 L432.62 968.35 L435.06 963.75 L437.51 959.17 L439.95 954.62 L442.40 950.10 L444.84 945.61 L447.29 941.15 L449.73 936.72 L452.18 932.32 L454.62 927.94 L457.06 923.60 L459.51 919.28 L461.95 914.99 L464.40 910.72 L466.84 906.49 L469.29 902.28 L471.73 898.10 L474.17 893.94 L476.62 889.82 L479.06 885.71 L481.51 881.64 L483.95 877.59 L486.40 873.56 L488.84 869.56 L491.28 865.59 L493.73 861.64 L496.17 857.71 L498.62 853.82 L501.06 849.94 L503.51 846.09 L505.95 842.26 L508.40 838.46 L510.84 834.68 L513.28 830.92 L515.73 827.19 L518.17 823.48 L520.62 819.80 L523.06 816.13 L525.51 812.49 L527.95 808.88 L530.39 805.28 L532.84 801.71 L535.28 798.16 L537.73 794.63 L540.17 791.12 L542.62 787.63 L545.06 784.17 L547.51 780.73 L549.95 777.30 L552.39 773.90 L554.84 770.52 L557.28 767.16 L559.73 763.83 L562.17 760.51 L564.62 757.21 L567.06 753.93 L569.50 750.67 L571.95 747.44 L574.39 744.22 L576.84 741.02 L579.28 737.84 L581.73 734.68 L584.17 731.54 L586.62 728.42 L589.06 725.32 L591.50 722.23 L593.95 719.17 L596.39 716.12 L598.84 713.09 L601.28 710.08 L603.73 707.09 L606.17 704.12 L608.61 701.16 L611.06 698.23 L613.50 695.31 L615.95 692.41 L618.39 689.52 L620.84 686.65 L623.28 683.80 L625.72 680.97 L628.17 678.16 L630.61 675.36 L633.06 672.58 L635.50 669.81 L637.95 667.06 L640.39 664.33 L642.84 661.62 L645.28 658.92 L647.72 656.23 L650.17 653.57 L652.61 650.92 L655.06 648.28 L657.50 645.66 L659.95 643.06 L662.39 640.47 L664.83 637.90 L667.28 635.34 L669.72 632.80 L672.17 630.28 L674.61 627.77 L677.06 625.27 L679.50 622.79 L681.95 620.32 L684.39 617.87 L686.83 615.44 L689.28 613.01 L691.72 610.61 L694.17 608.21 L696.61 605.83 L699.06 603.47 L701.50 601.12 L703.94 598.78 L706.39 596.46 L708.83 594.15 L711.28 591.86 L713.72 589.57 L716.17 587.31 L718.61 585.05 L721.05 582.81 L723.50 580.59 L725.94 578.37 L728.39 576.17 L730.83 573.98 L733.28 571.81 L735.72 569.65 L738.17 567.50 L740.61 565.36 L743.05 563.24 L745.50 561.13 L747.94 559.03 L750.39 556.94 L752.83 554.87 L755.28 552.81 L757.72 550.76 L760.16 548.73 L762.61 546.70 L765.05 544.69 L767.50 542.69 L769.94 540.70 L772.39 538.72 L774.83 536.76 L777.28 534.81 L779.72 532.87 L782.16 530.94 L784.61 529.02 L787.05 527.11 L789.50 525.22 L791.94 523.33 L794.39 521.46 L796.83 519.60 L799.27 517.74 L801.72 515.90 L804.16 514.08 L806.61 512.26 L809.05 510.45 L811.50 508.65 L813.94 506.87 L816.38 505.09 L818.83 503.33 L821.27 501.57 L823.72 499.83 L826.16 498.10 L828.61 496.37 L831.05 494.66 L833.50 492.96 L835.94 491.26 L838.38 489.58 L840.83 487.91 L843.27 486.25 L845.72 484.59 L848.16 482.95 L850.61 481.32 L853.05 479.69 L855.49 478.08 L857.94 476.47 L860.38 474.88 L862.83 473.29 L865.27 471.72 L867.72 470.15 L870.16 468.59 L872.61 467.05 L875.05 465.51 L877.49 463.98 L879.94 462.46 L882.38 460.94 L884.83 459.44 L887.27 457.95 L889.72 456.46 L892.16 454.99 L894.60 453.52 L897.05 452.06 L899.49 450.61 L901.94 449.17 L904.38 447.74 L906.83 446.31 L909.27 444.90 L911.72 443.49 L914.16 442.09 L916.60 440.70 L919.05 439.32 L921.49 437.94 L923.94 436.57 L926.38 435.22 L928.83 433.87 L931.27 432.52 L933.71 431.19 L936.16 429.86 L938.60 428.54 L941.05 427.23 L943.49 425.93 L945.94 424.64 L948.38 423.35 L950.82 422.07 L953.27 420.80 L955.71 419.53 L958.16 418.27 L960.60 417.02 L963.05 415.78 L965.49 414.55 L967.94 413.32 L970.38 412.10 L972.82 410.88 L975.27 409.68 L977.71 408.48 L980.16 407.29 L982.60 406.10 L985.05 404.93 L987.49 403.75 L989.93 402.59 L992.38 401.43 L994.82 400.28 L997.27 399.14 L999.71 398.00 L1002.16 396.87 L1004.60 395.75 L1007.05 394.64 L1009.49 393.53 L1011.93 392.42 L1014.38 391.33 L1016.82 390.24 L1019.27 389.15 L1021.71 388.07 L1024.16 387.00 L1026.60 385.94 L1029.04 384.88 L1031.49 383.83 L1033.93 382.78 L1036.38 381.74 L1038.82 380.71 L1041.27 379.68 L1043.71 378.66 L1046.15 377.65 L1048.60 376.64 L1051.04 375.63 L1053.49 374.64 L1055.93 373.65 L1058.38 372.66 L1060.82 371.68 L1063.27 370.71 L1065.71 369.74 L1068.15 368.78 L1070.60 367.82 L1073.04 366.87 L1075.49 365.92 L1077.93 364.98 L1080.38 364.05 L1082.82 363.12 L1085.26 362.20 L1087.71 361.28 L1090.15 360.37 L1092.60 359.46 L1095.04 358.56 L1097.49 357.66 L1099.93 356.77 L1102.38 355.89 L1104.82 355.01 L1107.26 354.13 L1109.71 353.26 L1112.15 352.40 L1114.60 351.54 L1117.04 350.68 L1119.49 349.83 L1121.93 348.99 L1124.37 348.15 L1126.82 347.32 L1129.26 346.49 L1131.71 345.66 L1134.15 344.84 L1136.60 344.03 L1139.04 343.22 L1141.48 342.41 L1143.93 341.61 L1146.37 340.82 L1148.82 340.02 L1151.26 339.24 L1153.71 338.46 L1156.15 337.68 L1158.60 336.91 L1161.04 336.14 L1163.48 335.38 L1165.93 334.62 L1168.37 333.86 L1170.82 333.11 L1173.26 332.37 L1175.71 331.63 L1178.15 330.89 L1180.59 330.16 L1183.04 329.43 L1185.48 328.71 L1187.93 327.99 L1190.37 327.27 L1192.82 326.56 L1195.26 325.85 L1197.71 325.15 L1200.15 324.45 L1202.59 323.76 L1205.04 323.07 L1207.48 322.38 L1209.93 321.70 L1212.37 321.02 L1214.82 320.35 L1217.26 319.68 L1219.70 319.01 L1222.15 318.35 L1224.59 317.70 L1227.04 317.04 L1229.48 316.39 L1231.93 315.74 L1234.37 315.10 L1236.82 314.46 L1239.26 313.83 L1241.70 313.20 L1244.15 312.57 L1246.59 311.95 L1249.04 311.33 L1251.48 310.71 L1253.93 310.10 L1256.37 309.49 L1258.81 308.88 L1261.26 308.28 L1263.70 307.68 L1266.15 307.09 L1268.59 306.50 L1271.04 305.91 L1273.48 305.32 L1275.92 304.74 L1278.37 304.17 L1280.81 303.59 L1283.26 303.02 L1285.70 302.45 L1288.15 301.89 L1290.59 301.33 L1293.04 300.77 L1295.48 300.22 L1297.92 299.67 L1300.37 299.12 L1302.81 298.58 L1305.26 298.04 L1307.70 297.50 L1310.15 296.96 L1312.59 296.43 L1315.03 295.90 L1317.48 295.38 L1319.92 294.86 L1322.37 294.34 L1324.81 293.82 L1327.26 293.31 L1329.70 292.80 L1332.15 292.29 L1334.59 291.79 L1337.03 291.29 L1339.48 290.79 L1341.92 290.30 L1344.37 289.80 L1346.81 289.32 L1349.26 288.83 L1351.70 288.35" stroke="#ff0000"/><path d="M299.00 1276.00 L299.98 1276.12 L300.96 1276.24 L301.94 1276.35 L302.92 1276.47 L303.90 1276.59 L304.88 1276.69 L305.86 1276.79 L306.84 1276.90 L307.82 1277.00 L308.80 1277.10 L309.78 1277.20 L310.76 1277.29 L311.74 1277.38 L312.72 1277.47 L313.70 1277.56 L314.68 1277.64 L315.66 1277.72 L316.64 1277.81 L317.62 1277.89 L318.59 1277.96 L319.57 1278.03 L320.55 1278.10 L321.53 1278.17 L322.51 1278.24 L323.49 1278.31 L324.47 1278.37 L325.45 1278.43 L326.43 1278.49 L327.41 1278.55 L328.39 1278.61 L329.37 1278.65 L330.35 1278.70 L331.33 1278.75 L332.31 1278.80 L333.29 1278.85 L334.27 1278.89 L335.25 1278.93 L336.23 1278.97 L337.21 1279.01 L338.19 1279.05 L339.17 1279.08 L340.15 1279.11 L341.13 1279.14 L342.11 1279.18 L343.09 1279.20 L344.07 1279.23 L345.05 1279.25 L346.03 1279.27 L347.01 1279.30 L347.99 1279.32 L348.97 1279.33 L349.95 1279.35 L350.93 1279.36 L351.91 1279.38 L352.89 1279.39 L353.87 1279.40 L354.85 1279.41 L355.83 1279.42 L356.81 1279.43 L357.78 1279.43 L358.76 1279.43 L359.74 1279.43 L360.72 1279.44 L361.70 1279.44 L362.68 1279.44 L363.66 1279.43 L364.64 1279.43 L365.62 1279.42 L366.60 1279.42 L367.58 1279.41 L368.56 1279.40 L369.54 1279.39 L370.52 1279.38 L371.50 1279.37 L372.48 1279.36 L373.46 1279.34 L374.44 1279.33 L375.42 1279.31 L376.40 1279.30 L378.73 1279.25 L381.06 1279.21 L383.39 1279.15 L385.72 1279.10 L388.04 1279.04 L390.37 1278.97 L392.70 1278.90 L395.03 1278.83 L397.36 1278.76 L399.69 1278.68 L402.02 1278.60 L404.35 1278.52 L406.67 1278.44 L409.00 1278.36 L411.33 1278.27 L413.66 1278.19 L415.99 1278.10 L418.32 1278.01 L420.65 1277.93 L422.98 1277.84 L425.31 1277.75 L427.63 1277.67 L429.96 1277.58 L432.29 1277.50 L434.62 1277.41 L436.95 1277.33 L439.28 1277.24 L441.61 1277.16 L443.94 1277.07 L446.26 1276.99 L448.59 1276.91 L450.92 1276.82 L453.25 1276.74 L455.58 1276.66 L457.91 1276.58 L460.24 1276.49 L462.57 1276.41 L464.90 1276.33 L467.22 1276.25 L469.55 1276.17 L471.88 1276.09 L474.21 1276.01 L476.54 1275.93 L478.87 1275.85 L481.20 1275.77 L483.53 1275.70 L485.85 1275.62 L488.18 1275.54 L490.51 1275.46 L492.84 1275.39 L495.17 1275.31 L497.50 1275.23 L499.83 1275.16 L502.16 1275.08 L504.49 1275.01 L506.81 1274.94 L509.14 1274.86 L511.47 1274.79 L513.80 1274.72 L516.13 1274.64 L518.46 1274.57 L520.79 1274.50 L523.12 1274.43 L525.44 1274.36 L527.77 1274.29 L530.10 1274.22 L532.43 1274.15 L534.76 1274.08 L537.09 1274.01 L539.42 1273.95 L541.75 1273.88 L544.08 1273.81 L546.40 1273.75 L548.73 1273.68 L551.06 1273.62 L553.39 1273.55 L555.72 1273.49 L558.05 1273.43 L560.38 1273.36 L562.71 1273.30 L565.03 1273.24 L567.36 1273.18 L569.69 1273.12 L572.02 1273.06 L574.35 1273.00 L576.68 1272.94 L579.01 1272.88 L581.34 1272.82 L583.67 1272.77 L585.99 1272.71 L588.32 1272.65 L590.65 1272.60 L592.98 1272.54 L595.31 1272.49 L597.64 1272.43 L599.97 1272.38 L602.30 1272.33 L604.62 1272.27 L606.95 1272.22 L609.28 1272.17 L611.61 1272.12 L613.94 1272.07 L616.27 1272.02 L618.60 1271.97 L620.93 1271.92 L623.26 1271.87 L625.58 1271.82 L627.91 1271.77 L630.24 1271.72 L632.57 1271.68 L634.90 1271.63 L637.23 1271.58 L639.56 1271.54 L641.89 1271.49 L644.21 1271.45 L646.54 1271.40 L648.87 1271.36 L651.20 1271.32 L653.53 1271.27 L655.86 1271.23 L658.19 1271.19 L660.52 1271.15 L662.85 1271.10 L665.17 1271.06 L667.50 1271.02 L669.83 1270.98 L672.16 1270.94 L674.49 1270.90 L676.82 1270.86 L679.15 1270.83 L681.48 1270.79 L683.80 1270.75 L686.13 1270.71 L688.46 1270.68 L690.79 1270.64 L693.12 1270.60 L695.45 1270.57 L697.78 1270.53 L700.11 1270.50 L702.44 1270.46 L704.76 1270.43 L707.09 1270.39 L709.42 1270.36 L711.75 1270.33 L714.08 1270.29 L716.41 1270.26 L718.74 1270.23 L721.07 1270.20 L723.39 1270.17 L725.72 1270.14 L728.05 1270.11 L730.38 1270.07 L732.71 1270.04 L735.04 1270.02 L737.37 1269.99 L739.70 1269.96 L742.03 1269.93 L744.35 1269.90 L746.68 1269.87 L749.01 1269.84 L751.34 1269.82 L753.67 1269.79 L756.00 1269.76 L758.33 1269.74 L760.66 1269.71 L762.98 1269.68 L765.31 1269.66 L767.64 1269.63 L769.97 1269.61 L772.30 1269.58 L774.63 1269.56 L776.96 1269.54 L779.29 1269.51 L781.62 1269.49 L783.94 1269.47 L786.27 1269.44 L788.60 1269.42 L790.93 1269.40 L793.26 1269.38 L795.59 1269.35 L797.92 1269.33 L800.25 1269.31 L802.57 1269.29 L804.90 1269.27 L807.23 1269.25 L809.56 1269.23 L811.89 1269.21 L814.22 1269.19 L816.55 1269.17 L818.88 1269.15 L821.21 1269.13 L823.53 1269.11 L825.86 1269.09 L828.19 1269.07 L830.52 1269.06 L832.85 1269.04 L835.18 1269.02 L837.51 1269.00 L839.84 1268.99 L842.16 1268.97 L844.49 1268.95 L846.82 1268.93 L849.15 1268.92 L851.48 1268.90 L853.81 1268.89 L856.14 1268.87 L858.47 1268.85 L860.79 1268.84 L863.12 1268.82 L865.45 1268.81 L867.78 1268.79 L870.11 1268.78 L872.44 1268.76 L874.77 1268.75 L877.10 1268.73 L879.43 1268.72 L881.75 1268.71 L884.08 1268.69 L886.41 1268.68 L888.74 1268.67 L891.07 1268.65 L893.40 1268.64 L895.73 1268.63 L898.06 1268.61 L900.38 1268.60 L902.71 1268.59 L905.04 1268.58 L907.37 1268.56 L909.70 1268.55 L912.03 1268.54 L914.36 1268.53 L916.69 1268.52 L919.02 1268.50 L921.34 1268.49 L923.67 1268.48 L926.00 1268.47 L928.33 1268.46 L930.66 1268.45 L932.99 1268.44 L935.32 1268.42 L937.65 1268.41 L939.97 1268.40 L942.30 1268.39 L944.63 1268.38 L946.96 1268.37 L949.29 1268.36 L951.62 1268.35 L953.95 1268.34 L956.28 1268.33 L958.61 1268.32 L960.93 1268.31 L963.26 1268.30 L965.59 1268.29 L967.92 1268.28 L970.25 1268.27 L972.58 1268.26 L974.91 1268.25 L977.24 1268.24 L979.56 1268.23 L981.89 1268.22 L984.22 1268.21 L986.55 1268.20 L988.88 1268.20 L991.21 1268.19 L993.54 1268.18 L995.87 1268.17 L998.20 1268.16 L1000.52 1268.15 L1002.85 1268.14 L1005.18 1268.13 L1007.51 1268.12 L1009.84 1268.11 L1012.17 1268.10 L1014.50 1268.09 L1016.83 1268.08 L1019.15 1268.08 L1021.48 1268.07 L1023.81 1268.06 L1026.14 1268.05 L1028.47 1268.04 L1030.80 1268.03 L1033.13 1268.02 L1035.46 1268.01 L1037.79 1268.00 L1040.11 1267.99 L1042.44 1267.98 L1044.77 1267.97 L1047.10 1267.97 L1049.43 1267.96 L1051.76 1267.95 L1054.09 1267.94 L1056.42 1267.93 L1058.74 1267.92 L1061.07 1267.91 L1063.40 1267.90 L1065.73 1267.89 L1068.06 1267.88 L1070.39 1267.87 L1072.72 1267.86 L1075.05 1267.85 L1077.38 1267.84 L1079.70 1267.83 L1082.03 1267.82 L1084.36 1267.81 L1086.69 1267.80 L1089.02 1267.79 L1091.35 1267.78 L1093.68 1267.77 L1096.01 1267.76 L1098.33 1267.75 L1100.66 1267.74 L1102.99 1267.73 L1105.32 1267.72 L1107.65 1267.71 L1109.98 1267.69 L1112.31 1267.68 L1114.64 1267.67 L1116.97 1267.66 L1119.29 1267.65 L1121.62 1267.64 L1123.95 1267.63 L1126.28 1267.62 L1128.61 1267.61 L1130.94 1267.60 L1133.27 1267.58 L1135.60 1267.57 L1137.92 1267.56 L1140.25 1267.55 L1142.58 1267.54 L1144.91 1267.53 L1147.24 1267.52 L1149.57 1267.50 L1151.90 1267.49 L1154.23 1267.48 L1156.56 1267.47 L1158.88 1267.46 L1161.21 1267.45 L1163.54 1267.43 L1165.87 1267.42 L1168.20 1267.41 L1170.53 1267.40 L1172.86 1267.39 L1175.19 1267.37 L1177.51 1267.36 L1179.84 1267.35 L1182.17 1267.34 L1184.50 1267.32 L1186.83 1267.31 L1189.16 1267.30 L1191.49 1267.29 L1193.82 1267.28 L1196.15 1267.26 L1198.47 1267.25 L1200.80 1267.24 L1203.13 1267.22 L1205.46 1267.21 L1207.79 1267.20 L1210.12 1267.19 L1212.45 1267.17 L1214.78 1267.16 L1217.10 1267.15 L1219.43 1267.14 L1221.76 1267.12 L1224.09 1267.11 L1226.42 1267.10 L1228.75 1267.08 L1231.08 1267.07 L1233.41 1267.06 L1235.74 1267.04 L1238.06 1267.03 L1240.39 1267.02 L1242.72 1267.00 L1245.05 1266.99 L1247.38 1266.98 L1249.71 1266.96 L1252.04 1266.95 L1254.37 1266.94 L1256.69 1266.92 L1259.02 1266.91 L1261.35 1266.90 L1263.68 1266.88 L1266.01 1266.87 L1268.34 1266.86 L1270.67 1266.84 L1273.00 1266.83 L1275.33 1266.81 L1277.65 1266.80 L1279.98 1266.79 L1282.31 1266.77 L1284.64 1266.76 L1286.97 1266.74 L1289.30 1266.73 L1291.63 1266.72 L1293.96 1266.70 L1296.28 1266.69 L1298.61 1266.67 L1300.94 1266.66 L1303.27 1266.65 L1305.60 1266.63" stroke="#0000ff" stroke-dasharray="8.32 8.32"/><path d="M1305.60 1266.63 L1309.33 1266.61 L1313.06 1266.59 L1316.79 1266.56 L1320.51 1266.54 L1324.24 1266.52 L1327.97 1266.49 L1331.70 1266.47 L1335.43 1266.45 L1339.16 1266.42 L1342.89 1266.40 L1346.61 1266.38 L1350.34 1266.35 L1354.07 1266.33 L1357.80 1266.31 L1361.53 1266.28 L1365.26 1266.26 L1368.98 1266.23 L1372.71 1266.21 L1376.44 1266.19 L1380.17 1266.16 L1383.90 1266.14 L1387.63 1266.11 L1391.36 1266.09 L1395.08 1266.07 L1398.81 1266.04 L1402.54 1266.02 L1406.27 1265.99 L1410.00 1265.97 L1413.73 1265.94 L1417.46 1265.92 L1421.18 1265.90 L1424.91 1265.87 L1428.64 1265.85 L1432.37 1265.82 L1436.10 1265.80 L1439.83 1265.77 L1443.56 1265.75 L1447.28 1265.72 L1451.01 1265.70 L1454.74 1265.67 L1458.47 1265.65 L1462.20 1265.62 L1465.93 1265.60 L1469.65 1265.57 L1473.38 1265.55 L1477.11 1265.52 L1480.84 1265.50 L1484.57 1265.47 L1488.30 1265.45 L1492.03 1265.42 L1495.75 1265.40 L1499.48 1265.37 L1503.21 1265.35 L1506.94 1265.32 L1510.67 1265.30 L1514.40 1265.27 L1518.13 1265.25 L1521.85 1265.22 L1525.58 1265.20 L1529.31 1265.17 L1533.04 1265.15 L1536.77 1265.12 L1540.50 1265.10 L1544.22 1265.07 L1547.95 1265.05 L1551.68 1265.02 L1555.41 1265.00 L1559.14 1264.97 L1562.87 1264.95 L1566.60 1264.92 L1570.32 1264.90 L1574.05 1264.87 L1577.78 1264.85 L1581.51 1264.82 L1585.24 1264.79 L1588.97 1264.77 L1592.70 1264.74 L1596.42 1264.72 L1600.15 1264.69 L1603.88 1264.67 L1607.61 1264.64 L1611.34 1264.62 L1615.07 1264.59 L1618.80 1264.57 L1622.52 1264.54 L1626.25 1264.52 L1629.98 1264.50 L1633.71 1264.47 L1637.44 1264.45 L1641.17 1264.42 L1644.89 1264.40 L1648.62 1264.37 L1652.35 1264.35 L1656.08 1264.32 L1659.81 1264.30 L1663.54 1264.27 L1667.27 1264.25 L1670.99 1264.22 L1674.72 1264.20 L1678.45 1264.17 L1682.18 1264.15 L1685.91 1264.13 L1689.64 1264.10 L1693.37 1264.08 L1697.09 1264.05 L1700.82 1264.03 L1704.55 1264.01 L1708.28 1263.98 L1712.01 1263.96 L1715.74 1263.93 L1719.47 1263.91 L1723.19 1263.89 L1726.92 1263.86 L1730.65 1263.84 L1734.38 1263.81 L1738.11 1263.79 L1741.84 1263.77 L1745.56 1263.74 L1749.29 1263.72 L1753.02 1263.70 L1756.75 1263.67 L1760.48 1263.65 L1764.21 1263.63 L1767.94 1263.60 L1771.66 1263.58 L1775.39 1263.56 L1779.12 1263.54 L1782.85 1263.51 L1786.58 1263.49 L1790.31 1263.47 L1794.04 1263.44 L1797.76 1263.42 L1801.49 1263.40 L1805.22 1263.38 L1808.95 1263.36 L1812.68 1263.33 L1816.41 1263.31 L1820.13 1263.29 L1823.86 1263.27 L1827.59 1263.25 L1831.32 1263.22 L1835.05 1263.20 L1838.78 1263.18 L1842.51 1263.16 L1846.23 1263.14 L1849.96 1263.12 L1853.69 1263.10 L1857.42 1263.07 L1861.15 1263.05 L1864.88 1263.03 L1868.61 1263.01 L1872.33 1262.99 L1876.06 1262.97 L1879.79 1262.95 L1883.52 1262.93 L1887.25 1262.91 L1890.98 1262.89 L1894.71 1262.87 L1898.43 1262.85 L1902.16 1262.83 L1905.89 1262.81 L1909.62 1262.79 L1913.35 1262.77 L1917.08 1262.75 L1920.80 1262.73 L1924.53 1262.71 L1928.26 1262.69 L1931.99 1262.68 L1935.72 1262.66 L1939.45 1262.64 L1943.18 1262.62 L1946.90 1262.60 L1950.63 1262.58 L1954.36 1262.57 L1958.09 1262.55 L1961.82 1262.53 L1965.55 1262.51 L1969.28 1262.49 L1973.00 1262.48 L1976.73 1262.46 L1980.46 1262.44 L1984.19 1262.43 L1987.92 1262.41 L1991.65 1262.39 L1995.38 1262.38 L1999.10 1262.36 L2002.83 1262.34 L2006.56 1262.33 L2010.29 1262.31 L2014.02 1262.29 L2017.75 1262.28 L2021.47 1262.26 L2025.20 1262.25 L2028.93 1262.23 L2032.66 1262.22 L2036.39 1262.20 L2040.12 1262.19 L2043.85 1262.17 L2047.57 1262.16 L2051.30 1262.14 L2055.03 1262.13 L2058.76 1262.12 L2062.49 1262.10 L2066.22 1262.09 L2069.95 1262.08 L2073.67 1262.06 L2077.40 1262.05 L2081.13 1262.04 L2084.86 1262.02 L2088.59 1262.01 L2092.32 1262.00 L2096.04 1261.99 L2099.77 1261.97 L2103.50 1261.96 L2107.23 1261.95 L2110.96 1261.94 L2114.69 1261.93 L2118.42 1261.91 L2122.14 1261.90 L2125.87 1261.89 L2129.60 1261.88 L2133.33 1261.87 L2137.06 1261.86 L2140.79 1261.85 L2144.52 1261.84 L2148.24 1261.83 L2151.97 1261.82 L2155.70 1261.81 L2159.43 1261.80 L2163.16 1261.79 L2166.89 1261.79 L2170.62 1261.78 L2174.34 1261.77 L2178.07 1261.76 L2181.80 1261.75 L2185.53 1261.74 L2189.26 1261.74 L2192.99 1261.73 L2196.71 1261.72 L2200.44 1261.71 L2204.17 1261.71 L2207.90 1261.70 L2211.63 1261.70 L2215.36 1261.69 L2219.09 1261.68 L2222.81 1261.68 L2226.54 1261.67 L2230.27 1261.67 L2234.00 1261.66" stroke="#0000ff" stroke-dasharray="8.32 8.32"/><path d="M299.00 1276.00 L299.98 1275.77 L300.96 1275.53 L301.94 1275.30 L302.92 1275.07 L303.90 1274.84 L304.88 1274.61 L305.86 1274.37 L306.84 1274.14 L307.82 1273.91 L308.80 1273.68 L309.78 1273.45 L310.76 1273.22 L311.74 1272.99 L312.72 1272.76 L313.70 1272.53 L314.68 1272.30 L315.66 1272.07 L316.64 1271.84 L317.62 1271.61 L318.59 1271.38 L319.57 1271.16 L320.55 1270.93 L321.53 1270.70 L322.51 1270.47 L323.49 1270.25 L324.47 1270.02 L325.45 1269.79 L326.43 1269.57 L327.41 1269.34 L328.39 1269.11 L329.37 1268.89 L330.35 1268.66 L331.33 1268.44 L332.31 1268.21 L333.29 1267.99 L334.27 1267.76 L335.25 1267.54 L336.23 1267.31 L337.21 1267.09 L338.19 1266.87 L339.17 1266.64 L340.15 1266.42 L341.13 1266.20 L342.11 1265.97 L343.09 1265.75 L344.07 1265.53 L345.05 1265.31 L346.03 1265.09 L347.01 1264.86 L347.99 1264.64 L348.97 1264.42 L349.95 1264.20 L350.93 1263.98 L351.91 1263.76 L352.89 1263.54 L353.87 1263.32 L354.85 1263.10 L355.83 1262.88 L356.81 1262.66 L357.78 1262.44 L358.76 1262.22 L359.74 1262.00 L360.72 1261.79 L361.70 1261.57 L362.68 1261.35 L363.66 1261.13 L364.64 1260.91 L365.62 1260.70 L366.60 1260.48 L367.58 1260.26 L368.56 1260.05 L369.54 1259.83 L370.52 1259.62 L371.50 1259.40 L372.48 1259.18 L373.46 1258.97 L374.44 1258.75 L375.42 1258.54 L376.40 1258.32 L378.74 1257.81 L381.08 1257.30 L383.42 1256.79 L385.77 1256.28 L388.11 1255.77 L390.45 1255.27 L392.79 1254.76 L395.13 1254.26 L397.47 1253.76 L399.82 1253.26 L402.16 1252.76 L404.50 1252.26 L406.84 1251.76 L409.18 1251.27 L411.52 1250.77 L413.87 1250.28 L416.21 1249.79 L418.55 1249.29 L420.89 1248.80 L423.23 1248.32 L425.57 1247.83 L427.92 1247.34 L430.26 1246.86 L432.60 1246.37 L434.94 1245.89 L437.28 1245.41 L439.62 1244.93 L441.96 1244.45 L444.31 1243.97 L446.65 1243.50 L448.99 1243.02 L451.33 1242.55 L453.67 1242.07 L456.01 1241.60 L458.36 1241.13 L460.70 1240.66 L463.04 1240.19 L465.38 1239.72 L467.72 1239.26 L470.06 1238.79 L472.41 1238.33 L474.75 1237.86 L477.09 1237.40 L479.43 1236.94 L481.77 1236.48 L484.11 1236.02 L486.46 1235.57 L488.80 1235.11 L491.14 1234.66 L493.48 1234.20 L495.82 1233.75 L498.16 1233.30 L500.51 1232.85 L502.85 1232.40 L505.19 1231.95 L507.53 1231.50 L509.87 1231.05 L512.21 1230.61 L514.55 1230.16 L516.90 1229.72 L519.24 1229.28 L521.58 1228.84 L523.92 1228.40 L526.26 1227.96 L528.60 1227.52 L530.95 1227.09 L533.29 1226.65 L535.63 1226.22 L537.97 1225.78 L540.31 1225.35 L542.65 1224.92 L545.00 1224.49 L547.34 1224.06 L549.68 1223.63 L552.02 1223.20 L554.36 1222.78 L556.70 1222.35 L559.05 1221.93 L561.39 1221.50 L563.73 1221.08 L566.07 1220.66 L568.41 1220.24 L570.75 1219.82 L573.09 1219.40 L575.44 1218.98 L577.78 1218.57 L580.12 1218.15 L582.46 1217.74 L584.80 1217.33 L587.14 1216.91 L589.49 1216.50 L591.83 1216.09 L594.17 1215.68 L596.51 1215.27 L598.85 1214.87 L601.19 1214.46 L603.54 1214.05 L605.88 1213.65 L608.22 1213.25 L610.56 1212.84 L612.90 1212.44 L615.24 1212.04 L617.59 1211.64 L619.93 1211.24 L622.27 1210.84 L624.61 1210.45 L626.95 1210.05 L629.29 1209.66 L631.63 1209.26 L633.98 1208.87 L636.32 1208.48 L638.66 1208.09 L641.00 1207.70 L643.34 1207.31 L645.68 1206.92 L648.03 1206.53 L650.37 1206.14 L652.71 1205.76 L655.05 1205.37 L657.39 1204.99 L659.73 1204.60 L662.08 1204.22 L664.42 1203.84 L666.76 1203.46 L669.10 1203.08 L671.44 1202.70 L673.78 1202.32 L676.13 1201.95 L678.47 1201.57 L680.81 1201.20 L683.15 1200.82 L685.49 1200.45 L687.83 1200.07 L690.17 1199.70 L692.52 1199.33 L694.86 1198.96 L697.20 1198.59 L699.54 1198.22 L701.88 1197.86 L704.22 1197.49 L706.57 1197.12 L708.91 1196.76 L711.25 1196.39 L713.59 1196.03 L715.93 1195.67 L718.27 1195.31 L720.62 1194.95 L722.96 1194.59 L725.30 1194.23 L727.64 1193.87 L729.98 1193.51 L732.32 1193.16 L734.67 1192.80 L737.01 1192.44 L739.35 1192.09 L741.69 1191.74 L744.03 1191.38 L746.37 1191.03 L748.72 1190.68 L751.06 1190.33 L753.40 1189.98 L755.74 1189.63 L758.08 1189.28 L760.42 1188.94 L762.76 1188.59 L765.11 1188.25 L767.45 1187.90 L769.79 1187.56 L772.13 1187.21 L774.47 1186.87 L776.81 1186.53 L779.16 1186.19 L781.50 1185.85 L783.84 1185.51 L786.18 1185.17 L788.52 1184.83 L790.86 1184.50 L793.21 1184.16 L795.55 1183.83 L797.89 1183.49 L800.23 1183.16 L802.57 1182.82 L804.91 1182.49 L807.26 1182.16 L809.60 1181.83 L811.94 1181.50 L814.28 1181.17 L816.62 1180.84 L818.96 1180.51 L821.30 1180.18 L823.65 1179.86 L825.99 1179.53 L828.33 1179.21 L830.67 1178.88 L833.01 1178.56 L835.35 1178.24 L837.70 1177.91 L840.04 1177.59 L842.38 1177.27 L844.72 1176.95 L847.06 1176.63 L849.40 1176.31 L851.75 1175.99 L854.09 1175.68 L856.43 1175.36 L858.77 1175.04 L861.11 1174.73 L863.45 1174.41 L865.80 1174.10 L868.14 1173.79 L870.48 1173.48 L872.82 1173.16 L875.16 1172.85 L877.50 1172.54 L879.84 1172.23 L882.19 1171.92 L884.53 1171.62 L886.87 1171.31 L889.21 1171.00 L891.55 1170.69 L893.89 1170.39 L896.24 1170.08 L898.58 1169.78 L900.92 1169.48 L903.26 1169.17 L905.60 1168.87 L907.94 1168.57 L910.29 1168.27 L912.63 1167.97 L914.97 1167.67 L917.31 1167.37 L919.65 1167.07 L921.99 1166.77 L924.34 1166.47 L926.68 1166.18 L929.02 1165.88 L931.36 1165.59 L933.70 1165.29 L936.04 1165.00 L938.38 1164.70 L940.73 1164.41 L943.07 1164.12 L945.41 1163.83 L947.75 1163.54 L950.09 1163.25 L952.43 1162.96 L954.78 1162.67 L957.12 1162.38 L959.46 1162.09 L961.80 1161.80 L964.14 1161.52 L966.48 1161.23 L968.83 1160.95 L971.17 1160.66 L973.51 1160.38 L975.85 1160.09 L978.19 1159.81 L980.53 1159.53 L982.88 1159.25 L985.22 1158.97 L987.56 1158.69 L989.90 1158.41 L992.24 1158.13 L994.58 1157.85 L996.93 1157.57 L999.27 1157.29 L1001.61 1157.01 L1003.95 1156.74 L1006.29 1156.46 L1008.63 1156.19 L1010.97 1155.91 L1013.32 1155.64 L1015.66 1155.36 L1018.00 1155.09 L1020.34 1154.82 L1022.68 1154.55 L1025.02 1154.28 L1027.37 1154.01 L1029.71 1153.73 L1032.05 1153.47 L1034.39 1153.20 L1036.73 1152.93 L1039.07 1152.66 L1041.42 1152.39 L1043.76 1152.13 L1046.10 1151.86 L1048.44 1151.59 L1050.78 1151.33 L1053.12 1151.06 L1055.47 1150.80 L1057.81 1150.54 L1060.15 1150.27 L1062.49 1150.01 L1064.83 1149.75 L1067.17 1149.49 L1069.51 1149.23 L1071.86 1148.97 L1074.20 1148.71 L1076.54 1148.45 L1078.88 1148.19 L1081.22 1147.93 L1083.56 1147.67 L1085.91 1147.41 L1088.25 1147.16 L1090.59 1146.90 L1092.93 1146.65 L1095.27 1146.39 L1097.61 1146.14 L1099.96 1145.88 L1102.30 1145.63 L1104.64 1145.38 L1106.98 1145.12 L1109.32 1144.87 L1111.66 1144.62 L1114.01 1144.37 L1116.35 1144.12 L1118.69 1143.87 L1121.03 1143.62 L1123.37 1143.37 L1125.71 1143.12 L1128.05 1142.87 L1130.40 1142.63 L1132.74 1142.38 L1135.08 1142.13 L1137.42 1141.89 L1139.76 1141.64 L1142.10 1141.39 L1144.45 1141.15 L1146.79 1140.91 L1149.13 1140.66 L1151.47 1140.42 L1153.81 1140.18 L1156.15 1139.93 L1158.50 1139.69 L1160.84 1139.45 L1163.18 1139.21 L1165.52 1138.97 L1167.86 1138.73 L1170.20 1138.49 L1172.55 1138.25 L1174.89 1138.01 L1177.23 1137.78 L1179.57 1137.54 L1181.91 1137.30 L1184.25 1137.07 L1186.59 1136.83 L1188.94 1136.59 L1191.28 1136.36 L1193.62 1136.12 L1195.96 1135.89 L1198.30 1135.66 L1200.64 1135.42 L1202.99 1135.19 L1205.33 1134.96 L1207.67 1134.72 L1210.01 1134.49 L1212.35 1134.26 L1214.69 1134.03 L1217.04 1133.80 L1219.38 1133.57 L1221.72 1133.34 L1224.06 1133.11 L1226.40 1132.88 L1228.74 1132.66 L1231.09 1132.43 L1233.43 1132.20 L1235.77 1131.98 L1238.11 1131.75 L1240.45 1131.52 L1242.79 1131.30 L1245.14 1131.07 L1247.48 1130.85 L1249.82 1130.62 L1252.16 1130.40 L1254.50 1130.18 L1256.84 1129.95 L1259.18 1129.73 L1261.53 1129.51 L1263.87 1129.29 L1266.21 1129.07 L1268.55 1128.85 L1270.89 1128.63 L1273.23 1128.41 L1275.58 1128.19 L1277.92 1127.97 L1280.26 1127.75 L1282.60 1127.53 L1284.94 1127.31 L1287.28 1127.09 L1289.63 1126.88 L1291.97 1126.66 L1294.31 1126.44 L1296.65 1126.23 L1298.99 1126.01 L1301.33 1125.80 L1303.68 1125.58 L1306.02 1125.37 L1308.36 1125.15 L1310.70 1124.94" stroke="#0000ff" stroke-dasharray="33.3 33.22" stroke-dashoffset="65.46"/><path d="M1310.70 1124.94 L1314.41 1124.60 L1318.12 1124.27 L1321.82 1123.93 L1325.53 1123.60 L1329.24 1123.26 L1332.95 1122.93 L1336.66 1122.60 L1340.36 1122.27 L1344.07 1121.94 L1347.78 1121.61 L1351.49 1121.28 L1355.20 1120.96 L1358.90 1120.63 L1362.61 1120.31 L1366.32 1119.98 L1370.03 1119.66 L1373.74 1119.34 L1377.44 1119.02 L1381.15 1118.70 L1384.86 1118.38 L1388.57 1118.06 L1392.28 1117.74 L1395.98 1117.42 L1399.69 1117.11 L1403.40 1116.79 L1407.11 1116.48 L1410.82 1116.16 L1414.52 1115.85 L1418.23 1115.54 L1421.94 1115.23 L1425.65 1114.92 L1429.36 1114.61 L1433.07 1114.30 L1436.77 1114.00 L1440.48 1113.69 L1444.19 1113.38 L1447.90 1113.08 L1451.61 1112.78 L1455.31 1112.47 L1459.02 1112.17 L1462.73 1111.87 L1466.44 1111.57 L1470.15 1111.27 L1473.85 1110.97 L1477.56 1110.67 L1481.27 1110.37 L1484.98 1110.08 L1488.69 1109.78 L1492.39 1109.49 L1496.10 1109.19 L1499.81 1108.90 L1503.52 1108.60 L1507.23 1108.31 L1510.93 1108.02 L1514.64 1107.73 L1518.35 1107.44 L1522.06 1107.15 L1525.77 1106.86 L1529.47 1106.58 L1533.18 1106.29 L1536.89 1106.00 L1540.60 1105.72 L1544.31 1105.43 L1548.01 1105.15 L1551.72 1104.87 L1555.43 1104.59 L1559.14 1104.30 L1562.85 1104.02 L1566.55 1103.74 L1570.26 1103.46 L1573.97 1103.19 L1577.68 1102.91 L1581.39 1102.63 L1585.09 1102.35 L1588.80 1102.08 L1592.51 1101.80 L1596.22 1101.53 L1599.93 1101.25 L1603.63 1100.98 L1607.34 1100.71 L1611.05 1100.44 L1614.76 1100.17 L1618.47 1099.90 L1622.17 1099.63 L1625.88 1099.36 L1629.59 1099.09 L1633.30 1098.82 L1637.01 1098.55 L1640.71 1098.29 L1644.42 1098.02 L1648.13 1097.76 L1651.84 1097.49 L1655.55 1097.23 L1659.26 1096.96 L1662.96 1096.70 L1666.67 1096.44 L1670.38 1096.18 L1674.09 1095.92 L1677.80 1095.66 L1681.50 1095.40 L1685.21 1095.14 L1688.92 1094.88 L1692.63 1094.62 L1696.34 1094.37 L1700.04 1094.11 L1703.75 1093.85 L1707.46 1093.60 L1711.17 1093.35 L1714.88 1093.09 L1718.58 1092.84 L1722.29 1092.58 L1726.00 1092.33 L1729.71 1092.08 L1733.42 1091.83 L1737.12 1091.58 L1740.83 1091.33 L1744.54 1091.08 L1748.25 1090.83 L1751.96 1090.58 L1755.66 1090.34 L1759.37 1090.09 L1763.08 1089.84 L1766.79 1089.60 L1770.50 1089.35 L1774.20 1089.11 L1777.91 1088.86 L1781.62 1088.62 L1785.33 1088.37 L1789.04 1088.13 L1792.74 1087.89 L1796.45 1087.65 L1800.16 1087.41 L1803.87 1087.17 L1807.58 1086.93 L1811.28 1086.69 L1814.99 1086.45 L1818.70 1086.21 L1822.41 1085.97 L1826.12 1085.73 L1829.82 1085.50 L1833.53 1085.26 L1837.24 1085.02 L1840.95 1084.79 L1844.66 1084.55 L1848.36 1084.32 L1852.07 1084.09 L1855.78 1083.85 L1859.49 1083.62 L1863.20 1083.39 L1866.90 1083.16 L1870.61 1082.92 L1874.32 1082.69 L1878.03 1082.46 L1881.74 1082.23 L1885.44 1082.00 L1889.15 1081.77 L1892.86 1081.55 L1896.57 1081.32 L1900.28 1081.09 L1903.99 1080.86 L1907.69 1080.64 L1911.40 1080.41 L1915.11 1080.19 L1918.82 1079.96 L1922.53 1079.74 L1926.23 1079.51 L1929.94 1079.29 L1933.65 1079.06 L1937.36 1078.84 L1941.07 1078.62 L1944.77 1078.40 L1948.48 1078.17 L1952.19 1077.95 L1955.90 1077.73 L1959.61 1077.51 L1963.31 1077.29 L1967.02 1077.07 L1970.73 1076.85 L1974.44 1076.63 L1978.15 1076.42 L1981.85 1076.20 L1985.56 1075.98 L1989.27 1075.76 L1992.98 1075.55 L1996.69 1075.33 L2000.39 1075.12 L2004.10 1074.90 L2007.81 1074.69 L2011.52 1074.47 L2015.23 1074.26 L2018.93 1074.04 L2022.64 1073.83 L2026.35 1073.62 L2030.06 1073.41 L2033.77 1073.19 L2037.47 1072.98 L2041.18 1072.77 L2044.89 1072.56 L2048.60 1072.35 L2052.31 1072.14 L2056.01 1071.93 L2059.72 1071.72 L2063.43 1071.51 L2067.14 1071.30 L2070.85 1071.10 L2074.55 1070.89 L2078.26 1070.68 L2081.97 1070.47 L2085.68 1070.27 L2089.39 1070.06 L2093.09 1069.85 L2096.80 1069.65 L2100.51 1069.44 L2104.22 1069.24 L2107.93 1069.03 L2111.63 1068.83 L2115.34 1068.63 L2119.05 1068.42 L2122.76 1068.22 L2126.47 1068.02 L2130.18 1067.82 L2133.88 1067.61 L2137.59 1067.41 L2141.30 1067.21 L2145.01 1067.01 L2148.72 1066.81 L2152.42 1066.61 L2156.13 1066.41 L2159.84 1066.21 L2163.55 1066.01 L2167.26 1065.81 L2170.96 1065.61 L2174.67 1065.41 L2178.38 1065.22 L2182.09 1065.02 L2185.80 1064.82 L2189.50 1064.63 L2193.21 1064.43 L2196.92 1064.23 L2200.63 1064.04 L2204.34 1063.84 L2208.04 1063.65 L2211.75 1063.45 L2215.46 1063.26 L2219.17 1063.06 L2222.88 1062.87 L2226.58 1062.67 L2230.29 1062.48 L2234.00 1062.29" stroke="#0000ff" stroke-dasharray="33.3 33.32" stroke-dashoffset="33.99"/><path d="M299.00 1276.00 L299.98 1275.53 L300.96 1275.06 L301.94 1274.59 L302.92 1274.13 L303.90 1273.66 L304.88 1273.19 L305.86 1272.72 L306.84 1272.26 L307.82 1271.79 L308.80 1271.33 L309.78 1270.86 L310.76 1270.40 L311.74 1269.94 L312.72 1269.47 L313.70 1269.01 L314.68 1268.55 L315.66 1268.09 L316.64 1267.62 L317.62 1267.16 L318.59 1266.70 L319.57 1266.24 L320.55 1265.78 L321.53 1265.32 L322.51 1264.87 L323.49 1264.41 L324.47 1263.95 L325.45 1263.49 L326.43 1263.04 L327.41 1262.58 L328.39 1262.12 L329.37 1261.67 L330.35 1261.21 L331.33 1260.76 L332.31 1260.30 L333.29 1259.85 L334.27 1259.40 L335.25 1258.94 L336.23 1258.49 L337.21 1258.04 L338.19 1257.59 L339.17 1257.14 L340.15 1256.69 L341.13 1256.24 L342.11 1255.79 L343.09 1255.34 L344.07 1254.89 L345.05 1254.44 L346.03 1253.99 L347.01 1253.54 L347.99 1253.10 L348.97 1252.65 L349.95 1252.20 L350.93 1251.76 L351.91 1251.31 L352.89 1250.87 L353.87 1250.42 L354.85 1249.98 L355.83 1249.54 L356.81 1249.09 L357.78 1248.65 L358.76 1248.21 L359.74 1247.77 L360.72 1247.32 L361.70 1246.88 L362.68 1246.44 L363.66 1246.00 L364.64 1245.56 L365.62 1245.12 L366.60 1244.69 L367.58 1244.25 L368.56 1243.81 L369.54 1243.37 L370.52 1242.93 L371.50 1242.50 L372.48 1242.06 L373.46 1241.63 L374.44 1241.19 L375.42 1240.76 L376.40 1240.32 L381.06 1238.26 L385.71 1236.21 L390.37 1234.17 L395.02 1232.14 L399.68 1230.12 L404.33 1228.11 L408.99 1226.10 L413.65 1224.11 L418.30 1222.12 L422.96 1220.15 L427.61 1218.18 L432.27 1216.22 L436.92 1214.27 L441.58 1212.33 L446.23 1210.40 L450.89 1208.48 L455.55 1206.57 L460.20 1204.66 L464.86 1202.76 L469.51 1200.88 L474.17 1199.00 L478.82 1197.13 L483.48 1195.26 L488.14 1193.41 L492.79 1191.56 L497.45 1189.72 L502.10 1187.89 L506.76 1186.07 L511.41 1184.26 L516.07 1182.45 L520.72 1180.66 L525.38 1178.87 L530.04 1177.09 L534.69 1175.31 L539.35 1173.55 L544.00 1171.79 L548.66 1170.04 L553.31 1168.30 L557.97 1166.56 L562.63 1164.83 L567.28 1163.11 L571.94 1161.40 L576.59 1159.70 L581.25 1158.00 L585.90 1156.31 L590.56 1154.63 L595.22 1152.95 L599.87 1151.28 L604.53 1149.62 L609.18 1147.97 L613.84 1146.32 L618.49 1144.68 L623.15 1143.05 L627.80 1141.42 L632.46 1139.80 L637.12 1138.19 L641.77 1136.59 L646.43 1134.99 L651.08 1133.40 L655.74 1131.81 L660.39 1130.24 L665.05 1128.67 L669.71 1127.10 L674.36 1125.54 L679.02 1123.99 L683.67 1122.45 L688.33 1120.91 L692.98 1119.38 L697.64 1117.85 L702.29 1116.34 L706.95 1114.82 L711.61 1113.32 L716.26 1111.82 L720.92 1110.33 L725.57 1108.84 L730.23 1107.36 L734.88 1105.88 L739.54 1104.41 L744.20 1102.95 L748.85 1101.49 L753.51 1100.04 L758.16 1098.60 L762.82 1097.16 L767.47 1095.73 L772.13 1094.30 L776.78 1092.88 L781.44 1091.47 L786.10 1090.06 L790.75 1088.65 L795.41 1087.26 L800.06 1085.86 L804.72 1084.48 L809.37 1083.10 L814.03 1081.72 L818.69 1080.35 L823.34 1078.99 L828.00 1077.63 L832.65 1076.28 L837.31 1074.93 L841.96 1073.59 L846.62 1072.25 L851.28 1070.92 L855.93 1069.59 L860.59 1068.27 L865.24 1066.95 L869.90 1065.64 L874.55 1064.34 L879.21 1063.04 L883.86 1061.74 L888.52 1060.45 L893.18 1059.17 L897.83 1057.89 L902.49 1056.62 L907.14 1055.35 L911.80 1054.08 L916.45 1052.82 L921.11 1051.57 L925.77 1050.32 L930.42 1049.07 L935.08 1047.83 L939.73 1046.60 L944.39 1045.37 L949.04 1044.14 L953.70 1042.92 L958.35 1041.71 L963.01 1040.50 L967.67 1039.29 L972.32 1038.09 L976.98 1036.89 L981.63 1035.70 L986.29 1034.51 L990.94 1033.32 L995.60 1032.15 L1000.26 1030.97 L1004.91 1029.80 L1009.57 1028.64 L1014.22 1027.47 L1018.88 1026.32 L1023.53 1025.17 L1028.19 1024.02 L1032.85 1022.87 L1037.50 1021.73 L1042.16 1020.60 L1046.81 1019.47 L1051.47 1018.34 L1056.12 1017.22 L1060.78 1016.10 L1065.43 1014.99 L1070.09 1013.88 L1074.75 1012.77 L1079.40 1011.67 L1084.06 1010.57 L1088.71 1009.48 L1093.37 1008.39 L1098.02 1007.31 L1102.68 1006.22 L1107.34 1005.15 L1111.99 1004.07 L1116.65 1003.00 L1121.30 1001.94 L1125.96 1000.88 L1130.61 999.82 L1135.27 998.77 L1139.92 997.72 L1144.58 996.67 L1149.24 995.63 L1153.89 994.59 L1158.55 993.56 L1163.20 992.53 L1167.86 991.50 L1172.51 990.47 L1177.17 989.45 L1181.83 988.44 L1186.48 987.43 L1191.14 986.42 L1195.79 985.41 L1200.45 984.41 L1205.10 983.41 L1209.76 982.42 L1214.42 981.43 L1219.07 980.44 L1223.73 979.46 L1228.38 978.48 L1233.04 977.50 L1237.69 976.53 L1242.35 975.56 L1247.00 974.59 L1251.66 973.63 L1256.32 972.67 L1260.97 971.71 L1265.63 970.76 L1270.28 969.81 L1274.94 968.86 L1279.59 967.92 L1284.25 966.98 L1288.91 966.04 L1293.56 965.11 L1298.22 964.18 L1302.87 963.25 L1307.53 962.33 L1312.18 961.41 L1316.84 960.49 L1321.49 959.58 L1326.15 958.67 L1330.81 957.76 L1335.46 956.86 L1340.12 955.95 L1344.77 955.06 L1349.43 954.16 L1354.08 953.27 L1358.74 952.38 L1363.40 951.49 L1368.05 950.61 L1372.71 949.73 L1377.36 948.85 L1382.02 947.98 L1386.67 947.11 L1391.33 946.24 L1395.98 945.37 L1400.64 944.51 L1405.30 943.65 L1409.95 942.80 L1414.61 941.94 L1419.26 941.09 L1423.92 940.24 L1428.57 939.40 L1433.23 938.56 L1437.89 937.72 L1442.54 936.88 L1447.20 936.04 L1451.85 935.21 L1456.51 934.39 L1461.16 933.56 L1465.82 932.74 L1470.48 931.92 L1475.13 931.10 L1479.79 930.28 L1484.44 929.47 L1489.10 928.66 L1493.75 927.85 L1498.41 927.05 L1503.06 926.25 L1507.72 925.45 L1512.38 924.65 L1517.03 923.86 L1521.69 923.07 L1526.34 922.28 L1531.00 921.49 L1535.65 920.71 L1540.31 919.93 L1544.97 919.15 L1549.62 918.37 L1554.28 917.60 L1558.93 916.83 L1563.59 916.06 L1568.24 915.29 L1572.90 914.53 L1577.55 913.77 L1582.21 913.01 L1586.87 912.25 L1591.52 911.50 L1596.18 910.74 L1600.83 909.99 L1605.49 909.25 L1610.14 908.50 L1614.80 907.76 L1619.46 907.02 L1624.11 906.28 L1628.77 905.55 L1633.42 904.81 L1638.08 904.08 L1642.73 903.36 L1647.39 902.63 L1652.05 901.90 L1656.70 901.18 L1661.36 900.46 L1666.01 899.75 L1670.67 899.03 L1675.32 898.32 L1679.98 897.61 L1684.63 896.90 L1689.29 896.19 L1693.95 895.49 L1698.60 894.79 L1703.26 894.09 L1707.91 893.39 L1712.57 892.69 L1717.22 892.00 L1721.88 891.31 L1726.54 890.62 L1731.19 889.93 L1735.85 889.25 L1740.50 888.57 L1745.16 887.89 L1749.81 887.21 L1754.47 886.53 L1759.12 885.86 L1763.78 885.18 L1768.44 884.51 L1773.09 883.84 L1777.75 883.18 L1782.40 882.51 L1787.06 881.85 L1791.71 881.19 L1796.37 880.53 L1801.03 879.87 L1805.68 879.22 L1810.34 878.57 L1814.99 877.92 L1819.65 877.27 L1824.30 876.62 L1828.96 875.98 L1833.62 875.33 L1838.27 874.69 L1842.93 874.05 L1847.58 873.41 L1852.24 872.78 L1856.89 872.14 L1861.55 871.51 L1866.20 870.88 L1870.86 870.25 L1875.52 869.63 L1880.17 869.00 L1884.83 868.38 L1889.48 867.76 L1894.14 867.14 L1898.79 866.52 L1903.45 865.91 L1908.11 865.30 L1912.76 864.68 L1917.42 864.07 L1922.07 863.46 L1926.73 862.86 L1931.38 862.25 L1936.04 861.65 L1940.69 861.05 L1945.35 860.45 L1950.01 859.85 L1954.66 859.25 L1959.32 858.66 L1963.97 858.07 L1968.63 857.48 L1973.28 856.89 L1977.94 856.30 L1982.60 855.71 L1987.25 855.13 L1991.91 854.55 L1996.56 853.96 L2001.22 853.39 L2005.87 852.81 L2010.53 852.23 L2015.18 851.66 L2019.84 851.08 L2024.50 850.51 L2029.15 849.94 L2033.81 849.37 L2038.46 848.81 L2043.12 848.24 L2047.77 847.68 L2052.43 847.12 L2057.09 846.56 L2061.74 846.00 L2066.40 845.44 L2071.05 844.88 L2075.71 844.33 L2080.36 843.78 L2085.02 843.23 L2089.68 842.68 L2094.33 842.13 L2098.99 841.58 L2103.64 841.04 L2108.30 840.49 L2112.95 839.95 L2117.61 839.41 L2122.26 838.87 L2126.92 838.34 L2131.58 837.80 L2136.23 837.26 L2140.89 836.73 L2145.54 836.20 L2150.20 835.67 L2154.85 835.14 L2159.51 834.61 L2164.17 834.09 L2168.82 833.56 L2173.48 833.04 L2178.13 832.52 L2182.79 832.00 L2187.44 831.48 L2192.10 830.96 L2196.75 830.45 L2201.41 829.93 L2206.07 829.42 L2210.72 828.90 L2215.38 828.39 L2220.03 827.89 L2224.69 827.38 L2229.34 826.87 L2234.00 826.37" stroke="#0000ff"/></g>
<path d="M297.5 1276.0 H2234.0 V57.7 H297.5" fill="none" stroke="#1e1e1e" stroke-width="3" stroke-linejoin="miter"/>
<g font-family="Liberation Serif" font-size="119" fill="#232323" stroke="#232323" stroke-width="1.1"><text transform="translate(235.9 0) scale(1.030 1) translate(-235.9 0)" x="205.9" y="1312.9">0</text><text transform="translate(234.9 0) scale(1.079 1) translate(-234.9 0)" x="205.9" y="1069.2">2</text><text transform="translate(234.4 0) scale(0.950 1) translate(-234.4 0)" x="204.4" y="825.6">4</text><text x="205.4" y="581.9">6</text><text transform="translate(236.0 0) scale(0.920 1) translate(-236.0 0)" x="206.0" y="338.3">8</text><text transform="translate(177.2 0) scale(0.736 1) translate(-177.2 0)" x="146.2" y="94.6">1</text><text x="206.0" y="94.6">0</text><text x="269.1" y="1411.9">0</text><text x="583.0" y="1411.9">0</text><text transform="translate(656.7 0) scale(0.900 1) translate(-656.7 0)" x="641.7" y="1411.9">.</text><text x="670.4" y="1411.9">0</text><text transform="translate(758.5 0) scale(0.731 1) translate(-758.5 0)" x="727.5" y="1411.9">1</text><text x="970.0" y="1411.9">0</text><text transform="translate(1043.9 0) scale(0.957 1) translate(-1043.9 0)" x="1028.9" y="1411.9">.</text><text x="1057.7" y="1411.9">0</text><text transform="translate(1144.3 0) scale(1.062 1) translate(-1144.3 0)" x="1115.3" y="1411.9">2</text><text x="1357.0" y="1411.9">0</text><text transform="translate(1430.8 0) scale(0.950 1) translate(-1430.8 0)" x="1415.8" y="1411.9">.</text><text x="1444.4" y="1411.9">0</text><text transform="translate(1530.0 0) scale(0.908 1) translate(-1530.0 0)" x="1499.5" y="1411.9">3</text><text x="1744.0" y="1411.9">0</text><text transform="translate(1817.8 0) scale(0.886 1) translate(-1817.8 0)" x="1802.8" y="1411.9">.</text><text x="1831.7" y="1411.9">0</text><text transform="translate(1918.3 0) scale(0.946 1) translate(-1918.3 0)" x="1888.3" y="1411.9">4</text><text x="2130.9" y="1411.9">0</text><text transform="translate(2204.6 0) scale(0.921 1) translate(-2204.6 0)" x="2189.6" y="1411.9">.</text><text x="2218.3" y="1411.9">0</text><text transform="translate(2305.2 0) scale(0.917 1) translate(-2305.2 0)" x="2274.2" y="1411.9">5</text></g>
<text x="1265" y="1567" text-anchor="middle" font-family="Liberation Serif" font-style="italic" font-size="128" fill="#232323">qa</text>
<g font-family="Liberation Serif" fill="#232323"><text transform="rotate(-90) scale(1.074,1)" x="-755.5" y="98.7" font-size="131" font-style="normal">Δ</text><text transform="rotate(-90) scale(1.0,1)" x="-719.7" y="98.7" font-size="123" font-style="italic">ω</text><text transform="rotate(-90) scale(1.0,1)" x="-632.4" y="98.7" font-size="131" font-style="normal">/</text><text transform="rotate(-90) scale(1.076,1)" x="-557.3" y="98.7" font-size="131" font-style="normal">Γ</text></g>
<text x="505.3" y="446" font-family="Liberation Serif" font-size="106.8" fill="#ff0000">Bilayer</text>
<text x="1617.6" y="1012" font-family="Liberation Serif" font-size="106.2" fill="#1a00ff">Monolayer</text>
<g fill="#000" shape-rendering="crispEdges"><rect x="1394" y="165" width="216" height="12"/><rect x="1394" y="284" width="46" height="12"/><rect x="1473" y="284" width="46" height="12"/><rect x="1553" y="284" width="46" height="12"/><rect x="1394.0" y="400" width="12.3" height="13"/><rect x="1416.7" y="400" width="12.3" height="13"/><rect x="1439.3" y="400" width="12.3" height="13"/><rect x="1462.0" y="400" width="12.3" height="13"/><rect x="1484.7" y="400" width="12.3" height="13"/><rect x="1507.3" y="400" width="12.3" height="13"/><rect x="1530.0" y="400" width="12.3" height="13"/><rect x="1552.7" y="400" width="12.3" height="13"/><rect x="1575.4" y="400" width="12.3" height="13"/><rect x="1598.0" y="400" width="12.3" height="13"/></g>
<g font-family="DejaVu Serif Condensed" fill="#000" ><text x="1648.7" y="315.4" font-size="72.6" font-style="normal">5</text><text x="1688.2" y="315.4" font-size="72.6" font-style="normal">.</text><text x="1707.6" y="315.4" font-size="72.6" font-style="normal">0</text><text x="1766.6" y="315.4" font-size="72.6" font-style="normal">k</text><text x="1807.0" y="315.4" font-size="72.6" font-style="normal">V</text><text x="1888.7" y="315.4" font-size="72.6" font-style="normal">c</text><text x="1924.6" y="315.4" font-size="72.6" font-style="normal">m</text><text x="1644.1" y="432.8" font-size="72.6" font-style="normal">1</text><text x="1684.3" y="432.8" font-size="72.6" font-style="normal">.</text><text x="1703.7" y="432.8" font-size="72.6" font-style="normal">0</text><text x="1761.9" y="432.8" font-size="72.6" font-style="normal">k</text><text x="1802.9" y="432.8" font-size="72.6" font-style="normal">V</text><text x="1884.5" y="432.8" font-size="72.6" font-style="normal">c</text><text x="1919.9" y="432.8" font-size="72.6" font-style="normal">m</text><text x="1828.0" y="196.1" font-size="72.6" font-style="normal">1</text><text x="1864.3" y="196.1" font-size="72.6" font-style="normal">0</text><text x="1909.8" y="196.1" font-size="72.6" font-style="normal">.</text><text x="1928.0" y="196.1" font-size="72.6" font-style="normal">0</text><text x="1987.4" y="196.1" font-size="72.6" font-style="normal">k</text><text x="2027.8" y="196.1" font-size="72.6" font-style="normal">V</text><text x="2108.7" y="196.1" font-size="72.6" font-style="normal">c</text><text x="2144.6" y="196.1" font-size="72.6" font-style="normal">m</text><text x="1695.3" y="211.4" font-size="46" font-style="normal">0</text><text x="1748.0" y="198.4" font-size="80" font-style="normal">=</text></g><g font-family="DejaVu Serif Condensed" fill="#000" ><text x="1653.0" y="196.1" font-size="71" font-style="italic">E</text></g><g font-family="Liberation Serif" fill="#000" ><text x="1854.5" y="329.8" font-size="106" font-style="normal">/</text><text x="1850.4" y="448.3" font-size="106" font-style="normal">/</text><text x="2076.0" y="210.3" font-size="106" font-style="normal">/</text></g>
</svg>
</body></html>
